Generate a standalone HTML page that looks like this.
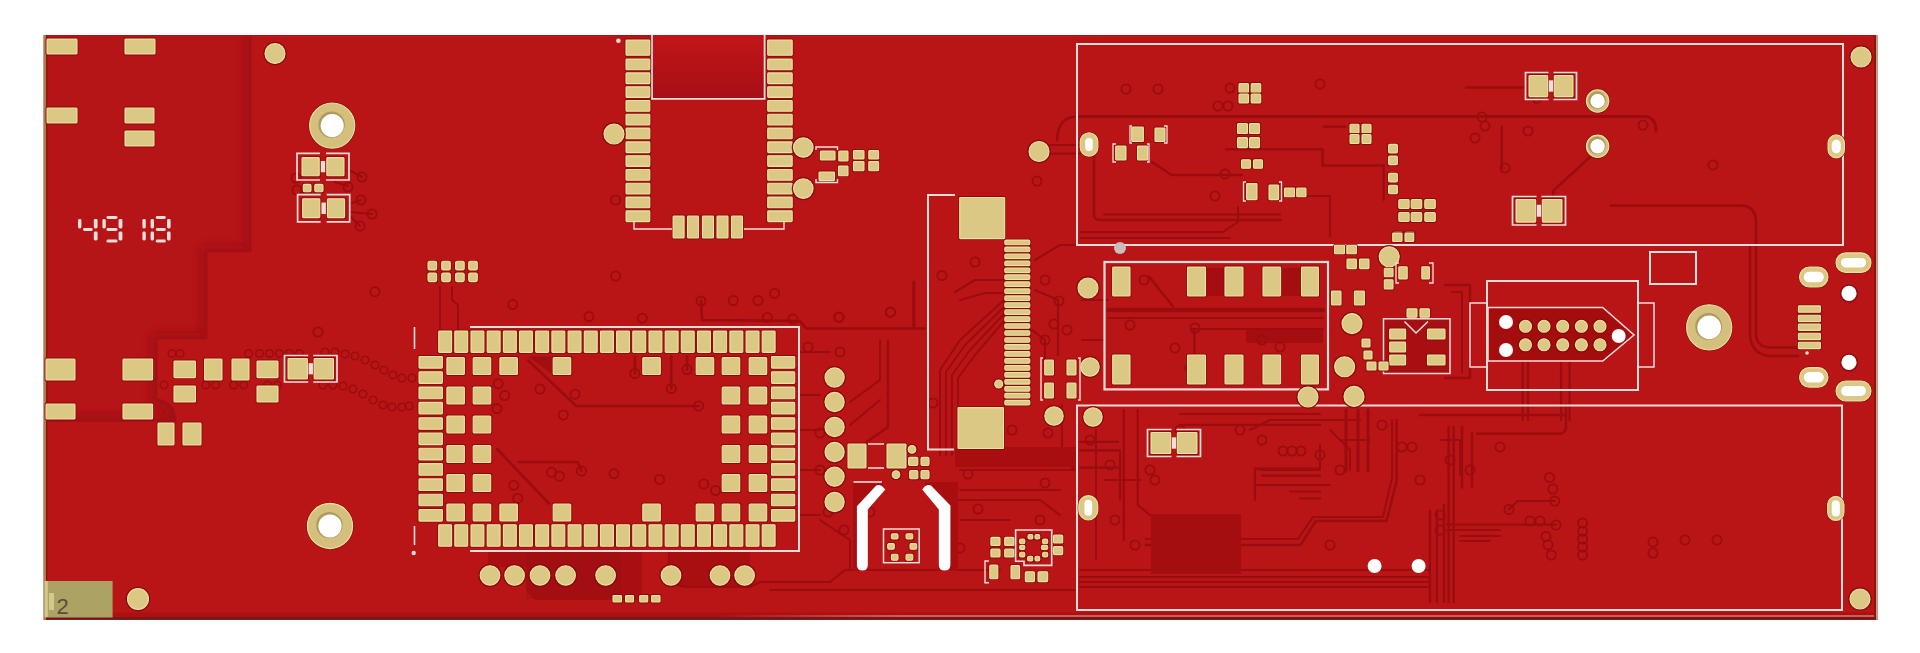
<!DOCTYPE html>
<html><head><meta charset="utf-8"><title>PCB</title><style>
html,body{margin:0;padding:0;background:#fff;width:1920px;height:653px;overflow:hidden}
svg{display:block}
.g{fill:#dcc885;stroke:#f2e2a0;stroke-width:1.1}
.sh{fill:#820b0f;opacity:0.95}
</style></head><body>
<svg width="1920" height="653" viewBox="0 0 1920 653">
<rect x="44" y="35" width="1834" height="584.8" fill="#b91516" opacity="1"/>
<defs><clipPath id="regc"><path d="M45,36 L251,36 L251,252 L207,252 L207,339 L157,339 L157,399 Q175,401 176,421 L45,421.5 Z"/></clipPath><filter id="blr" x="-10%" y="-10%" width="120%" height="120%"><feGaussianBlur stdDeviation="4"/></filter></defs>
<path d="M45,36 L251,36 L251,252 L207,252 L207,339 L157,339 L157,399 Q175,401 176,421 L45,421.5 Z" fill="#b61517"/>
<g clip-path="url(#regc)"><path d="M251,30 L251,252 L207,252 L207,339 L157,339 L157,399 Q175,401 176,421 L40,421.5" fill="none" stroke="#9c0f12" stroke-width="12" filter="url(#blr)" opacity="0.8"/></g>
<path d="M251,36 L251,252 L207,252 L207,339 L157,339 L157,399 Q175,401 176,421 L45,421.5" fill="none" stroke="#a01013" stroke-width="1.2" opacity="0.6"/>
<rect x="44" y="35" width="1834" height="1" fill="#a81418" opacity="1"/>
<defs><linearGradient id="pk" x1="720" y1="0" x2="900" y2="0" gradientUnits="userSpaceOnUse"><stop offset="0" stop-color="#dc8a78" stop-opacity="0"/><stop offset="1" stop-color="#dc8a78" stop-opacity="0.65"/></linearGradient></defs>
<rect x="44" y="612.5" width="1834" height="4.5" fill="#a00a0e" opacity="0.45"/>
<rect x="720" y="615" width="1158" height="2" fill="url(#pk)" opacity="1"/>
<rect x="44" y="617.3" width="1834" height="2.5" fill="#6a181b" opacity="1"/>
<rect x="43.3" y="35" width="2.700000000000003" height="584.8" fill="#ad7a52" opacity="1"/>
<rect x="46" y="35" width="1.3999999999999986" height="584.8" fill="#8e150e" opacity="1"/>
<rect x="1874" y="35" width="2" height="584.8" fill="#8c160c" opacity="1"/>
<rect x="1876" y="35" width="2" height="584.8" fill="#c99a80" opacity="1"/>
<path d="M1077,116.5 L1646,116.5 Q1656,118 1656,131" fill="none" stroke="#9a0c0f" stroke-width="3" stroke-linejoin="round" stroke-linecap="round"/>
<path d="M1466,87.6 L1525,87.6" fill="none" stroke="#9a0c0f" stroke-width="2.5" stroke-linejoin="round" stroke-linecap="round"/>
<path d="M1501.8,126.8 L1501.8,168.6" fill="none" stroke="#9a0c0f" stroke-width="2.4" stroke-linejoin="round" stroke-linecap="round"/>
<path d="M1595,152.5 L1553,191 L1553,197" fill="none" stroke="#9a0c0f" stroke-width="2.4" stroke-linejoin="round" stroke-linecap="round"/>
<path d="M1611,205.6 L1743,205.6 Q1756,207 1756,222 L1756,335 Q1757,347.5 1771,347.5 L1798,347.5" fill="none" stroke="#9a0c0f" stroke-width="2.6" stroke-linejoin="round" stroke-linecap="round"/>
<path d="M1750,245 L1750,336 Q1752,355 1771,356 L1798,356" fill="none" stroke="#9a0c0f" stroke-width="2.4" stroke-linejoin="round" stroke-linecap="round"/>
<path d="M1226,149.3 L1322.6,149.3 L1322.6,165.4 L1383.7,165.4" fill="none" stroke="#9a0c0f" stroke-width="2.5" stroke-linejoin="round" stroke-linecap="round"/>
<path d="M1324,126.8 L1345,126.8" fill="none" stroke="#9a0c0f" stroke-width="2.4" stroke-linejoin="round" stroke-linecap="round"/>
<path d="M1152,162 L1171.5,175 L1242,175" fill="none" stroke="#9a0c0f" stroke-width="2.4" stroke-linejoin="round" stroke-linecap="round"/>
<path d="M1094,155.7 L1094,216 Q1095,220 1100,220 L1280.8,220" fill="none" stroke="#9a0c0f" stroke-width="2.4" stroke-linejoin="round" stroke-linecap="round"/>
<path d="M1104,214.5 L1280,214.5" fill="none" stroke="#9a0c0f" stroke-width="2.2" stroke-linejoin="round" stroke-linecap="round"/>
<path d="M1081,232 L1223,232" fill="none" stroke="#9a0c0f" stroke-width="2.2" stroke-linejoin="round" stroke-linecap="round"/>
<path d="M1081,238 L1230,238" fill="none" stroke="#9a0c0f" stroke-width="2.0" stroke-linejoin="round" stroke-linecap="round"/>
<path d="M1223,232 L1238,222 L1238,207" fill="none" stroke="#9a0c0f" stroke-width="2.0" stroke-linejoin="round" stroke-linecap="round"/>
<path d="M1290,196 L1330,196 L1330,236" fill="none" stroke="#9a0c0f" stroke-width="2.2" stroke-linejoin="round" stroke-linecap="round"/>
<path d="M1383.7,165.4 L1383.7,200" fill="none" stroke="#9a0c0f" stroke-width="2.2" stroke-linejoin="round" stroke-linecap="round"/>
<path d="M1108.6,310 L1323,310" fill="none" stroke="#9a0c0f" stroke-width="4.5" stroke-linejoin="round" stroke-linecap="round"/>
<path d="M1108.6,318 L1323,318" fill="none" stroke="#9a0c0f" stroke-width="2.2" stroke-linejoin="round" stroke-linecap="round"/>
<path d="M1149,276.4 L1173,306.5" fill="none" stroke="#9a0c0f" stroke-width="2.4" stroke-linejoin="round" stroke-linecap="round"/>
<path d="M1192,329 L1323,329" fill="none" stroke="#9a0c0f" stroke-width="2.2" stroke-linejoin="round" stroke-linecap="round"/>
<path d="M1194.4,329 L1194.4,356" fill="none" stroke="#9a0c0f" stroke-width="2.2" stroke-linejoin="round" stroke-linecap="round"/>
<path d="M1082,300 L1108,300" fill="none" stroke="#9a0c0f" stroke-width="2.2" stroke-linejoin="round" stroke-linecap="round"/>
<path d="M1082,340 L1104,340" fill="none" stroke="#9a0c0f" stroke-width="2.2" stroke-linejoin="round" stroke-linecap="round"/>
<path d="M1522.7,361 L1522.7,420" fill="none" stroke="#9a0c0f" stroke-width="2.2" stroke-linejoin="round" stroke-linecap="round"/>
<path d="M1528,361 L1528,420" fill="none" stroke="#9a0c0f" stroke-width="2.2" stroke-linejoin="round" stroke-linecap="round"/>
<path d="M1561,361 L1561,420" fill="none" stroke="#9a0c0f" stroke-width="2.2" stroke-linejoin="round" stroke-linecap="round"/>
<path d="M1569.6,361 L1569.6,420" fill="none" stroke="#9a0c0f" stroke-width="2.2" stroke-linejoin="round" stroke-linecap="round"/>
<path d="M1445,285 L1470,285 L1470,378 L1445,378" fill="none" stroke="#9a0c0f" stroke-width="2.4" stroke-linejoin="round" stroke-linecap="round"/>
<path d="M1452,292 L1462,292 L1462,372" fill="none" stroke="#9a0c0f" stroke-width="2.0" stroke-linejoin="round" stroke-linecap="round"/>
<path d="M701,301 L702,320 L800,321 L806,328.5 L925,328.5" fill="none" stroke="#9a0c0f" stroke-width="2.6" stroke-linejoin="round" stroke-linecap="round"/>
<path d="M888,341 L888,427 L866.5,442" fill="none" stroke="#9a0c0f" stroke-width="2.4" stroke-linejoin="round" stroke-linecap="round"/>
<path d="M913.8,282 L913.8,328" fill="none" stroke="#9a0c0f" stroke-width="3.0" stroke-linejoin="round" stroke-linecap="round"/>
<path d="M1004,300 L960,340 L940,370 L940,455" fill="none" stroke="#9a0c0f" stroke-width="2.0" stroke-linejoin="round" stroke-linecap="round"/>
<path d="M1004,307 L965,345 L946,372 L946,455" fill="none" stroke="#9a0c0f" stroke-width="2.0" stroke-linejoin="round" stroke-linecap="round"/>
<path d="M1004,314 L970,350 L952,375 L952,455" fill="none" stroke="#9a0c0f" stroke-width="2.0" stroke-linejoin="round" stroke-linecap="round"/>
<path d="M1004,321 L975,355 L958,378 L958,405" fill="none" stroke="#9a0c0f" stroke-width="2.0" stroke-linejoin="round" stroke-linecap="round"/>
<path d="M955,292 L975,280 L1004,280" fill="none" stroke="#9a0c0f" stroke-width="2.2" stroke-linejoin="round" stroke-linecap="round"/>
<path d="M960,300 L985,293 L1004,293" fill="none" stroke="#9a0c0f" stroke-width="2.0" stroke-linejoin="round" stroke-linecap="round"/>
<path d="M1035,260 L1060,245 L1075,245" fill="none" stroke="#9a0c0f" stroke-width="2.2" stroke-linejoin="round" stroke-linecap="round"/>
<path d="M1035,290 L1058,300 L1058,355" fill="none" stroke="#9a0c0f" stroke-width="2.2" stroke-linejoin="round" stroke-linecap="round"/>
<path d="M1032,330 L1045,340 L1045,358" fill="none" stroke="#9a0c0f" stroke-width="2.0" stroke-linejoin="round" stroke-linecap="round"/>
<path d="M1062,405 L1062,460 L1076,470" fill="none" stroke="#9a0c0f" stroke-width="2.2" stroke-linejoin="round" stroke-linecap="round"/>
<path d="M1000,455 L1076,455" fill="none" stroke="#9a0c0f" stroke-width="2.0" stroke-linejoin="round" stroke-linecap="round"/>
<path d="M1000,462 L1076,462" fill="none" stroke="#9a0c0f" stroke-width="2.0" stroke-linejoin="round" stroke-linecap="round"/>
<path d="M960,470 L1076,470" fill="none" stroke="#9a0c0f" stroke-width="2.0" stroke-linejoin="round" stroke-linecap="round"/>
<path d="M960,490 L1060,490" fill="none" stroke="#9a0c0f" stroke-width="2.0" stroke-linejoin="round" stroke-linecap="round"/>
<path d="M955,500 L1040,500 L1060,515" fill="none" stroke="#9a0c0f" stroke-width="2.0" stroke-linejoin="round" stroke-linecap="round"/>
<path d="M960,520 L1010,520" fill="none" stroke="#9a0c0f" stroke-width="2.0" stroke-linejoin="round" stroke-linecap="round"/>
<path d="M960,590 L1076,590" fill="none" stroke="#9a0c0f" stroke-width="2.0" stroke-linejoin="round" stroke-linecap="round"/>
<path d="M770,590 L1076,590" fill="none" stroke="#9a0c0f" stroke-width="2.0" stroke-linejoin="round" stroke-linecap="round"/>
<path d="M760,582 L830,582 L845,570 L1000,570" fill="none" stroke="#9a0c0f" stroke-width="2.0" stroke-linejoin="round" stroke-linecap="round"/>
<path d="M1080,570 L1430,570" fill="none" stroke="#9a0c0f" stroke-width="2.2" stroke-linejoin="round" stroke-linecap="round"/>
<path d="M1080,577 L1430,577" fill="none" stroke="#9a0c0f" stroke-width="2.2" stroke-linejoin="round" stroke-linecap="round"/>
<path d="M1080,582 L1430,582" fill="none" stroke="#9a0c0f" stroke-width="2.0" stroke-linejoin="round" stroke-linecap="round"/>
<path d="M1080,587 L1430,587" fill="none" stroke="#9a0c0f" stroke-width="2.0" stroke-linejoin="round" stroke-linecap="round"/>
<path d="M1145.7,545 L1300.6,545 L1315.8,521 L1386.5,521 L1396.6,481 L1396.6,420" fill="none" stroke="#9a0c0f" stroke-width="2.4" stroke-linejoin="round" stroke-linecap="round"/>
<path d="M1145.7,539 L1298,539 L1313,517 L1383,517 L1392,478 L1392,420" fill="none" stroke="#9a0c0f" stroke-width="2.0" stroke-linejoin="round" stroke-linecap="round"/>
<path d="M1430,511 L1430,602" fill="none" stroke="#9a0c0f" stroke-width="2.4" stroke-linejoin="round" stroke-linecap="round"/>
<path d="M1437,511 L1437,602" fill="none" stroke="#9a0c0f" stroke-width="2.4" stroke-linejoin="round" stroke-linecap="round"/>
<path d="M1444,505 L1444,602" fill="none" stroke="#9a0c0f" stroke-width="2.4" stroke-linejoin="round" stroke-linecap="round"/>
<path d="M1440,440 L1460,440 L1460,475" fill="none" stroke="#9a0c0f" stroke-width="2.0" stroke-linejoin="round" stroke-linecap="round"/>
<path d="M1260,470 L1320,470 L1320,445" fill="none" stroke="#9a0c0f" stroke-width="2.0" stroke-linejoin="round" stroke-linecap="round"/>
<path d="M1255,485 L1330,485" fill="none" stroke="#9a0c0f" stroke-width="2.0" stroke-linejoin="round" stroke-linecap="round"/>
<path d="M1082,450 L1120,450 L1120,500" fill="none" stroke="#9a0c0f" stroke-width="2.2" stroke-linejoin="round" stroke-linecap="round"/>
<path d="M1096,430 L1096,560" fill="none" stroke="#9a0c0f" stroke-width="2.0" stroke-linejoin="round" stroke-linecap="round"/>
<path d="M1104,480 L1140,480" fill="none" stroke="#9a0c0f" stroke-width="2.0" stroke-linejoin="round" stroke-linecap="round"/>
<path d="M1250,430 L1270,420 L1360,420" fill="none" stroke="#9a0c0f" stroke-width="2.0" stroke-linejoin="round" stroke-linecap="round"/>
<path d="M1330,430 L1350,450 L1350,470" fill="none" stroke="#9a0c0f" stroke-width="2.0" stroke-linejoin="round" stroke-linecap="round"/>
<path d="M1340,440 L1370,440" fill="none" stroke="#9a0c0f" stroke-width="2.0" stroke-linejoin="round" stroke-linecap="round"/>
<path d="M1080,441.8 L1118,441.8" fill="none" stroke="#9a0c0f" stroke-width="2.2" stroke-linejoin="round" stroke-linecap="round"/>
<path d="M1080,450.7 L1118,450.7" fill="none" stroke="#9a0c0f" stroke-width="2.2" stroke-linejoin="round" stroke-linecap="round"/>
<path d="M1080,467.7 L1118,467.7" fill="none" stroke="#9a0c0f" stroke-width="2.2" stroke-linejoin="round" stroke-linecap="round"/>
<path d="M1123.8,410 L1123.8,540" fill="none" stroke="#9a0c0f" stroke-width="2.2" stroke-linejoin="round" stroke-linecap="round"/>
<path d="M1137.7,410 L1137.7,505 L1150,515" fill="none" stroke="#9a0c0f" stroke-width="2.2" stroke-linejoin="round" stroke-linecap="round"/>
<path d="M1180,414 L1320,414" fill="none" stroke="#9a0c0f" stroke-width="2.2" stroke-linejoin="round" stroke-linecap="round"/>
<path d="M1180,424.9 L1320,424.9" fill="none" stroke="#9a0c0f" stroke-width="2.2" stroke-linejoin="round" stroke-linecap="round"/>
<path d="M1255,468.7 L1320,468.7" fill="none" stroke="#9a0c0f" stroke-width="2.2" stroke-linejoin="round" stroke-linecap="round"/>
<path d="M1262,475.6 L1320,475.6" fill="none" stroke="#9a0c0f" stroke-width="2.2" stroke-linejoin="round" stroke-linecap="round"/>
<path d="M1290,491.5 L1320,491.5" fill="none" stroke="#9a0c0f" stroke-width="2.2" stroke-linejoin="round" stroke-linecap="round"/>
<path d="M1300,498.5 L1320,498.5" fill="none" stroke="#9a0c0f" stroke-width="2.2" stroke-linejoin="round" stroke-linecap="round"/>
<path d="M1255,468.7 L1255,500" fill="none" stroke="#9a0c0f" stroke-width="2.2" stroke-linejoin="round" stroke-linecap="round"/>
<path d="M1346,410 L1346,471" fill="none" stroke="#9a0c0f" stroke-width="3.0" stroke-linejoin="round" stroke-linecap="round"/>
<path d="M1358,410 L1358,471" fill="none" stroke="#9a0c0f" stroke-width="3.0" stroke-linejoin="round" stroke-linecap="round"/>
<path d="M1368,410 L1368,471" fill="none" stroke="#9a0c0f" stroke-width="3.0" stroke-linejoin="round" stroke-linecap="round"/>
<path d="M1477,433.7 L1560,433.7 Q1566,433 1566,426 L1566,405" fill="none" stroke="#9a0c0f" stroke-width="2.4" stroke-linejoin="round" stroke-linecap="round"/>
<path d="M1420,415 L1566,415" fill="none" stroke="#9a0c0f" stroke-width="2.4" stroke-linejoin="round" stroke-linecap="round"/>
<path d="M1448.6,427 L1448.6,602" fill="none" stroke="#9a0c0f" stroke-width="2.4" stroke-linejoin="round" stroke-linecap="round"/>
<path d="M1453.7,427 L1453.7,602" fill="none" stroke="#9a0c0f" stroke-width="2.4" stroke-linejoin="round" stroke-linecap="round"/>
<path d="M1462,427 L1462,487.5" fill="none" stroke="#9a0c0f" stroke-width="2.4" stroke-linejoin="round" stroke-linecap="round"/>
<path d="M1472,433 L1472,487.5" fill="none" stroke="#9a0c0f" stroke-width="2.4" stroke-linejoin="round" stroke-linecap="round"/>
<path d="M1447,524.6 L1556,524.6" fill="none" stroke="#9a0c0f" stroke-width="2.4" stroke-linejoin="round" stroke-linecap="round"/>
<path d="M1447,530 L1500,530" fill="none" stroke="#9a0c0f" stroke-width="2.2" stroke-linejoin="round" stroke-linecap="round"/>
<path d="M1460,536 L1500,536" fill="none" stroke="#9a0c0f" stroke-width="2.2" stroke-linejoin="round" stroke-linecap="round"/>
<path d="M1460,541 L1490,541" fill="none" stroke="#9a0c0f" stroke-width="2.2" stroke-linejoin="round" stroke-linecap="round"/>
<path d="M1554.7,501 L1517.6,501 L1509,509.4" fill="none" stroke="#9a0c0f" stroke-width="2.2" stroke-linejoin="round" stroke-linecap="round"/>
<path d="M349,170 L362,177" fill="none" stroke="#9a0c0f" stroke-width="2.0" stroke-linejoin="round" stroke-linecap="round"/>
<path d="M349,204 L361,200" fill="none" stroke="#9a0c0f" stroke-width="2.0" stroke-linejoin="round" stroke-linecap="round"/>
<path d="M350,212 L372,214" fill="none" stroke="#9a0c0f" stroke-width="2.0" stroke-linejoin="round" stroke-linecap="round"/>
<path d="M350,216 L360,226" fill="none" stroke="#9a0c0f" stroke-width="2.0" stroke-linejoin="round" stroke-linecap="round"/>
<path d="M335,182 L348,186" fill="none" stroke="#9a0c0f" stroke-width="2.0" stroke-linejoin="round" stroke-linecap="round"/>
<path d="M1057,140 Q1058,116.5 1077,116.5" fill="none" stroke="#9a0c0f" stroke-width="2.6" stroke-linejoin="round" stroke-linecap="round"/>
<path d="M1050,145 L1080,145" fill="none" stroke="#9a0c0f" stroke-width="2.2" stroke-linejoin="round" stroke-linecap="round"/>
<path d="M1050,153.7 L1080,153.7" fill="none" stroke="#9a0c0f" stroke-width="2.2" stroke-linejoin="round" stroke-linecap="round"/>
<path d="M528,360.4 L576.3,406 L698.6,406" fill="none" stroke="#9a0c0f" stroke-width="2.6" stroke-linejoin="round" stroke-linecap="round"/>
<path d="M634.9,356.5 L634.9,373.4" fill="none" stroke="#9a0c0f" stroke-width="2.6" stroke-linejoin="round" stroke-linecap="round"/>
<path d="M671.3,356.5 L671.3,388.5" fill="none" stroke="#9a0c0f" stroke-width="2.6" stroke-linejoin="round" stroke-linecap="round"/>
<path d="M687,356.5 L687,369.5" fill="none" stroke="#9a0c0f" stroke-width="2.6" stroke-linejoin="round" stroke-linecap="round"/>
<path d="M497,449 L549,503.6" fill="none" stroke="#9a0c0f" stroke-width="2.6" stroke-linejoin="round" stroke-linecap="round"/>
<path d="M519,462 L577.6,462 L581.5,471" fill="none" stroke="#9a0c0f" stroke-width="2.4" stroke-linejoin="round" stroke-linecap="round"/>
<path d="M440,287 L440,330" fill="none" stroke="#9a0c0f" stroke-width="2.0" stroke-linejoin="round" stroke-linecap="round"/>
<path d="M452,287 L452,300 L458,305 L458,330" fill="none" stroke="#9a0c0f" stroke-width="2.0" stroke-linejoin="round" stroke-linecap="round"/>
<path d="M669,552 L669,570 Q670,587 690,587 L750,587" fill="none" stroke="#9a0c0f" stroke-width="2.2" stroke-linejoin="round" stroke-linecap="round"/>
<path d="M750,587 L760,582 L790,582" fill="none" stroke="#9a0c0f" stroke-width="2.0" stroke-linejoin="round" stroke-linecap="round"/>
<path d="M800,352 L830,352" fill="none" stroke="#9a0c0f" stroke-width="2.0" stroke-linejoin="round" stroke-linecap="round"/>
<path d="M800,395 L820,395" fill="none" stroke="#9a0c0f" stroke-width="2.0" stroke-linejoin="round" stroke-linecap="round"/>
<path d="M800,430 L820,430" fill="none" stroke="#9a0c0f" stroke-width="2.0" stroke-linejoin="round" stroke-linecap="round"/>
<path d="M800,470 L820,470" fill="none" stroke="#9a0c0f" stroke-width="2.0" stroke-linejoin="round" stroke-linecap="round"/>
<path d="M800,515 L820,515" fill="none" stroke="#9a0c0f" stroke-width="2.0" stroke-linejoin="round" stroke-linecap="round"/>
<path d="M850,402 L880,380 L880,340" fill="none" stroke="#9a0c0f" stroke-width="2.0" stroke-linejoin="round" stroke-linecap="round"/>
<path d="M850,425 L880,400" fill="none" stroke="#9a0c0f" stroke-width="2.0" stroke-linejoin="round" stroke-linecap="round"/>
<path d="M820,520 L850,540 L850,570" fill="none" stroke="#9a0c0f" stroke-width="2.0" stroke-linejoin="round" stroke-linecap="round"/>
<path d="M488,552 L642,552 L642,600 L535,600 L526,590 L526,567 L488,567 Z" fill="#a20e11" opacity="0.8"/>
<rect x="526" y="553" width="95" height="46" fill="#9a0d10" opacity="0.35"/>
<path d="M669,552 L750,552 L750,587 L690,587 Q671,585 669,570 Z" fill="#a60e11" opacity="0.85"/>
<polygon points="528,356.5 551.6,356.5 551.6,373.4" fill="#9c0d10" opacity="0.8"/>
<rect x="1206" y="268" width="18.4" height="28" fill="#a50e10"/>
<rect x="1281" y="268" width="19.5" height="28" fill="#a50e10"/>
<rect x="1246" y="330" width="77" height="13" fill="#a50e10"/>
<rect x="955" y="447" width="122" height="20" fill="#a80e10"/>
<circle cx="325" cy="352" r="3.8" fill="none" stroke="#9a0c0f" stroke-width="1.5"/>
<circle cx="335" cy="352" r="3.8" fill="none" stroke="#9a0c0f" stroke-width="1.5"/>
<circle cx="345" cy="354" r="3.8" fill="none" stroke="#9a0c0f" stroke-width="1.5"/>
<circle cx="355" cy="356" r="3.8" fill="none" stroke="#9a0c0f" stroke-width="1.5"/>
<circle cx="365" cy="360" r="3.8" fill="none" stroke="#9a0c0f" stroke-width="1.5"/>
<circle cx="375" cy="365" r="3.8" fill="none" stroke="#9a0c0f" stroke-width="1.5"/>
<circle cx="384" cy="370" r="3.8" fill="none" stroke="#9a0c0f" stroke-width="1.5"/>
<circle cx="393" cy="375" r="3.8" fill="none" stroke="#9a0c0f" stroke-width="1.5"/>
<circle cx="402" cy="378" r="3.8" fill="none" stroke="#9a0c0f" stroke-width="1.5"/>
<circle cx="412" cy="378" r="3.8" fill="none" stroke="#9a0c0f" stroke-width="1.5"/>
<circle cx="323" cy="385" r="3.8" fill="none" stroke="#9a0c0f" stroke-width="1.5"/>
<circle cx="333" cy="385" r="3.8" fill="none" stroke="#9a0c0f" stroke-width="1.5"/>
<circle cx="343" cy="386" r="3.8" fill="none" stroke="#9a0c0f" stroke-width="1.5"/>
<circle cx="353" cy="389" r="3.8" fill="none" stroke="#9a0c0f" stroke-width="1.5"/>
<circle cx="363" cy="394" r="3.8" fill="none" stroke="#9a0c0f" stroke-width="1.5"/>
<circle cx="373" cy="400" r="3.8" fill="none" stroke="#9a0c0f" stroke-width="1.5"/>
<circle cx="383" cy="405" r="3.8" fill="none" stroke="#9a0c0f" stroke-width="1.5"/>
<circle cx="392" cy="407" r="3.8" fill="none" stroke="#9a0c0f" stroke-width="1.5"/>
<circle cx="402" cy="407" r="3.8" fill="none" stroke="#9a0c0f" stroke-width="1.5"/>
<circle cx="409" cy="406" r="3.8" fill="none" stroke="#9a0c0f" stroke-width="1.5"/>
<circle cx="172" cy="353.5" r="3.8" fill="none" stroke="#9a0c0f" stroke-width="1.5"/>
<circle cx="180" cy="353.5" r="3.8" fill="none" stroke="#9a0c0f" stroke-width="1.5"/>
<circle cx="248.6" cy="353.5" r="3.8" fill="none" stroke="#9a0c0f" stroke-width="1.5"/>
<circle cx="259.5" cy="353.5" r="3.8" fill="none" stroke="#9a0c0f" stroke-width="1.5"/>
<circle cx="269.5" cy="353.5" r="3.8" fill="none" stroke="#9a0c0f" stroke-width="1.5"/>
<circle cx="279.4" cy="353.5" r="3.8" fill="none" stroke="#9a0c0f" stroke-width="1.5"/>
<circle cx="289.4" cy="353.5" r="3.8" fill="none" stroke="#9a0c0f" stroke-width="1.5"/>
<circle cx="299.4" cy="353.5" r="3.8" fill="none" stroke="#9a0c0f" stroke-width="1.5"/>
<circle cx="164" cy="385" r="3.8" fill="none" stroke="#9a0c0f" stroke-width="1.5"/>
<circle cx="205.7" cy="385" r="3.8" fill="none" stroke="#9a0c0f" stroke-width="1.5"/>
<circle cx="215.7" cy="385" r="3.8" fill="none" stroke="#9a0c0f" stroke-width="1.5"/>
<circle cx="233.6" cy="385" r="3.8" fill="none" stroke="#9a0c0f" stroke-width="1.5"/>
<circle cx="243.6" cy="385" r="3.8" fill="none" stroke="#9a0c0f" stroke-width="1.5"/>
<circle cx="267.5" cy="385" r="3.8" fill="none" stroke="#9a0c0f" stroke-width="1.5"/>
<circle cx="277.5" cy="385" r="3.8" fill="none" stroke="#9a0c0f" stroke-width="1.5"/>
<circle cx="374.9" cy="291.7" r="4.6" fill="none" stroke="#9a0c0f" stroke-width="1.8"/>
<circle cx="512.8" cy="304.6" r="4.6" fill="none" stroke="#9a0c0f" stroke-width="1.8"/>
<circle cx="589" cy="316.5" r="4.6" fill="none" stroke="#9a0c0f" stroke-width="1.8"/>
<circle cx="318" cy="332" r="4.6" fill="none" stroke="#9a0c0f" stroke-width="1.8"/>
<circle cx="615.6" cy="276" r="4.6" fill="none" stroke="#9a0c0f" stroke-width="1.8"/>
<circle cx="642.3" cy="318.3" r="4.6" fill="none" stroke="#9a0c0f" stroke-width="1.8"/>
<circle cx="701" cy="301" r="4.6" fill="none" stroke="#9a0c0f" stroke-width="1.8"/>
<circle cx="733.3" cy="300.5" r="4.6" fill="none" stroke="#9a0c0f" stroke-width="1.8"/>
<circle cx="758" cy="300.5" r="4.6" fill="none" stroke="#9a0c0f" stroke-width="1.8"/>
<circle cx="774.6" cy="293.5" r="4.6" fill="none" stroke="#9a0c0f" stroke-width="1.8"/>
<circle cx="767.3" cy="317.4" r="4.6" fill="none" stroke="#9a0c0f" stroke-width="1.8"/>
<circle cx="793" cy="319" r="4.6" fill="none" stroke="#9a0c0f" stroke-width="1.8"/>
<circle cx="839" cy="317.4" r="4.6" fill="none" stroke="#9a0c0f" stroke-width="1.8"/>
<circle cx="890.4" cy="312" r="4.6" fill="none" stroke="#9a0c0f" stroke-width="1.8"/>
<circle cx="698.6" cy="406" r="4.6" fill="none" stroke="#9a0c0f" stroke-width="1.8"/>
<circle cx="634.9" cy="373.4" r="4.6" fill="none" stroke="#9a0c0f" stroke-width="1.8"/>
<circle cx="671.3" cy="388.5" r="4.6" fill="none" stroke="#9a0c0f" stroke-width="1.8"/>
<circle cx="687" cy="369.5" r="4.6" fill="none" stroke="#9a0c0f" stroke-width="1.8"/>
<circle cx="539.9" cy="389" r="4.6" fill="none" stroke="#9a0c0f" stroke-width="1.8"/>
<circle cx="563.3" cy="415" r="4.6" fill="none" stroke="#9a0c0f" stroke-width="1.8"/>
<circle cx="575" cy="394.2" r="4.6" fill="none" stroke="#9a0c0f" stroke-width="1.8"/>
<circle cx="498.2" cy="383.8" r="4.6" fill="none" stroke="#9a0c0f" stroke-width="1.8"/>
<circle cx="504.7" cy="395.5" r="4.6" fill="none" stroke="#9a0c0f" stroke-width="1.8"/>
<circle cx="497" cy="408.6" r="4.6" fill="none" stroke="#9a0c0f" stroke-width="1.8"/>
<circle cx="581.5" cy="471" r="4.6" fill="none" stroke="#9a0c0f" stroke-width="1.8"/>
<circle cx="551.6" cy="472.3" r="4.6" fill="none" stroke="#9a0c0f" stroke-width="1.8"/>
<circle cx="559.4" cy="476.2" r="4.6" fill="none" stroke="#9a0c0f" stroke-width="1.8"/>
<circle cx="513.8" cy="485.3" r="4.6" fill="none" stroke="#9a0c0f" stroke-width="1.8"/>
<circle cx="517.7" cy="498.4" r="4.6" fill="none" stroke="#9a0c0f" stroke-width="1.8"/>
<circle cx="614" cy="473.6" r="4.6" fill="none" stroke="#9a0c0f" stroke-width="1.8"/>
<circle cx="659.6" cy="479.4" r="4.6" fill="none" stroke="#9a0c0f" stroke-width="1.8"/>
<circle cx="703.8" cy="484" r="4.6" fill="none" stroke="#9a0c0f" stroke-width="1.8"/>
<circle cx="715.6" cy="490.5" r="4.6" fill="none" stroke="#9a0c0f" stroke-width="1.8"/>
<circle cx="1126" cy="89" r="4.6" fill="none" stroke="#9a0c0f" stroke-width="1.8"/>
<circle cx="1158" cy="89" r="4.6" fill="none" stroke="#9a0c0f" stroke-width="1.8"/>
<circle cx="1230" cy="88" r="4.6" fill="none" stroke="#9a0c0f" stroke-width="1.8"/>
<circle cx="1218" cy="106" r="4.6" fill="none" stroke="#9a0c0f" stroke-width="1.8"/>
<circle cx="1228" cy="106" r="4.6" fill="none" stroke="#9a0c0f" stroke-width="1.8"/>
<circle cx="1215" cy="196" r="4.6" fill="none" stroke="#9a0c0f" stroke-width="1.8"/>
<circle cx="1300" cy="193" r="4.6" fill="none" stroke="#9a0c0f" stroke-width="1.8"/>
<circle cx="1225" cy="174" r="4.6" fill="none" stroke="#9a0c0f" stroke-width="1.8"/>
<circle cx="1320" cy="84" r="4.6" fill="none" stroke="#9a0c0f" stroke-width="1.8"/>
<circle cx="1482" cy="117" r="4.6" fill="none" stroke="#9a0c0f" stroke-width="1.8"/>
<circle cx="1485" cy="126" r="4.6" fill="none" stroke="#9a0c0f" stroke-width="1.8"/>
<circle cx="1475" cy="138" r="4.6" fill="none" stroke="#9a0c0f" stroke-width="1.8"/>
<circle cx="1537" cy="98" r="4.6" fill="none" stroke="#9a0c0f" stroke-width="1.8"/>
<circle cx="1528" cy="131" r="4.6" fill="none" stroke="#9a0c0f" stroke-width="1.8"/>
<circle cx="1643" cy="125" r="4.6" fill="none" stroke="#9a0c0f" stroke-width="1.8"/>
<circle cx="1713" cy="165" r="4.6" fill="none" stroke="#9a0c0f" stroke-width="1.8"/>
<circle cx="1505" cy="168" r="4.6" fill="none" stroke="#9a0c0f" stroke-width="1.8"/>
<circle cx="1144" cy="280" r="4.6" fill="none" stroke="#9a0c0f" stroke-width="1.8"/>
<circle cx="1195" cy="328" r="4.6" fill="none" stroke="#9a0c0f" stroke-width="1.8"/>
<circle cx="1130" cy="325" r="4.6" fill="none" stroke="#9a0c0f" stroke-width="1.8"/>
<circle cx="1175" cy="348" r="4.6" fill="none" stroke="#9a0c0f" stroke-width="1.8"/>
<circle cx="1280" cy="347" r="4.6" fill="none" stroke="#9a0c0f" stroke-width="1.8"/>
<circle cx="1262" cy="340" r="4.6" fill="none" stroke="#9a0c0f" stroke-width="1.8"/>
<circle cx="1190" cy="368" r="4.6" fill="none" stroke="#9a0c0f" stroke-width="1.8"/>
<circle cx="1192" cy="378" r="4.6" fill="none" stroke="#9a0c0f" stroke-width="1.8"/>
<circle cx="1180" cy="430" r="4.6" fill="none" stroke="#9a0c0f" stroke-width="1.8"/>
<circle cx="1240" cy="430" r="4.6" fill="none" stroke="#9a0c0f" stroke-width="1.8"/>
<circle cx="1150" cy="470" r="4.6" fill="none" stroke="#9a0c0f" stroke-width="1.8"/>
<circle cx="1155" cy="480" r="4.6" fill="none" stroke="#9a0c0f" stroke-width="1.8"/>
<circle cx="1262" cy="440" r="4.6" fill="none" stroke="#9a0c0f" stroke-width="1.8"/>
<circle cx="1283" cy="451" r="4.6" fill="none" stroke="#9a0c0f" stroke-width="1.8"/>
<circle cx="1292" cy="451" r="4.6" fill="none" stroke="#9a0c0f" stroke-width="1.8"/>
<circle cx="1301" cy="451" r="4.6" fill="none" stroke="#9a0c0f" stroke-width="1.8"/>
<circle cx="1320" cy="455" r="4.6" fill="none" stroke="#9a0c0f" stroke-width="1.8"/>
<circle cx="1340" cy="470" r="4.6" fill="none" stroke="#9a0c0f" stroke-width="1.8"/>
<circle cx="1382" cy="425" r="4.6" fill="none" stroke="#9a0c0f" stroke-width="1.8"/>
<circle cx="1420" cy="480" r="4.6" fill="none" stroke="#9a0c0f" stroke-width="1.8"/>
<circle cx="1402" cy="447" r="4.6" fill="none" stroke="#9a0c0f" stroke-width="1.8"/>
<circle cx="1412" cy="447" r="4.6" fill="none" stroke="#9a0c0f" stroke-width="1.8"/>
<circle cx="1549.6" cy="477.4" r="4.6" fill="none" stroke="#9a0c0f" stroke-width="1.8"/>
<circle cx="1553" cy="489" r="4.6" fill="none" stroke="#9a0c0f" stroke-width="1.8"/>
<circle cx="1554.7" cy="501" r="4.6" fill="none" stroke="#9a0c0f" stroke-width="1.8"/>
<circle cx="1556" cy="525" r="4.6" fill="none" stroke="#9a0c0f" stroke-width="1.8"/>
<circle cx="1546" cy="536.4" r="4.6" fill="none" stroke="#9a0c0f" stroke-width="1.8"/>
<circle cx="1548" cy="544.8" r="4.6" fill="none" stroke="#9a0c0f" stroke-width="1.8"/>
<circle cx="1551.3" cy="555" r="4.6" fill="none" stroke="#9a0c0f" stroke-width="1.8"/>
<circle cx="1582.6" cy="523" r="4.6" fill="none" stroke="#9a0c0f" stroke-width="1.8"/>
<circle cx="1582.6" cy="531.3" r="4.6" fill="none" stroke="#9a0c0f" stroke-width="1.8"/>
<circle cx="1582.6" cy="539" r="4.6" fill="none" stroke="#9a0c0f" stroke-width="1.8"/>
<circle cx="1582.6" cy="547" r="4.6" fill="none" stroke="#9a0c0f" stroke-width="1.8"/>
<circle cx="1582.6" cy="555" r="4.6" fill="none" stroke="#9a0c0f" stroke-width="1.8"/>
<circle cx="1509" cy="509.4" r="4.6" fill="none" stroke="#9a0c0f" stroke-width="1.8"/>
<circle cx="1653" cy="542" r="4.6" fill="none" stroke="#9a0c0f" stroke-width="1.8"/>
<circle cx="1653" cy="553" r="4.6" fill="none" stroke="#9a0c0f" stroke-width="1.8"/>
<circle cx="1685" cy="540" r="4.6" fill="none" stroke="#9a0c0f" stroke-width="1.8"/>
<circle cx="1717" cy="540" r="4.6" fill="none" stroke="#9a0c0f" stroke-width="1.8"/>
<circle cx="1440" cy="515" r="4.6" fill="none" stroke="#9a0c0f" stroke-width="1.8"/>
<circle cx="1440" cy="530" r="4.6" fill="none" stroke="#9a0c0f" stroke-width="1.8"/>
<circle cx="1530" cy="521" r="4.6" fill="none" stroke="#9a0c0f" stroke-width="1.8"/>
<circle cx="1540" cy="521" r="4.6" fill="none" stroke="#9a0c0f" stroke-width="1.8"/>
<circle cx="1115" cy="520" r="4.6" fill="none" stroke="#9a0c0f" stroke-width="1.8"/>
<circle cx="1135" cy="545" r="4.6" fill="none" stroke="#9a0c0f" stroke-width="1.8"/>
<circle cx="1330" cy="545" r="4.6" fill="none" stroke="#9a0c0f" stroke-width="1.8"/>
<circle cx="1450" cy="460" r="4.6" fill="none" stroke="#9a0c0f" stroke-width="1.8"/>
<circle cx="1470" cy="470" r="4.6" fill="none" stroke="#9a0c0f" stroke-width="1.8"/>
<circle cx="1500" cy="447" r="4.6" fill="none" stroke="#9a0c0f" stroke-width="1.8"/>
<circle cx="1000" cy="230" r="4.6" fill="none" stroke="#9a0c0f" stroke-width="1.8"/>
<circle cx="975" cy="262" r="4.6" fill="none" stroke="#9a0c0f" stroke-width="1.8"/>
<circle cx="1045" cy="280" r="4.6" fill="none" stroke="#9a0c0f" stroke-width="1.8"/>
<circle cx="1059" cy="301" r="4.6" fill="none" stroke="#9a0c0f" stroke-width="1.8"/>
<circle cx="1054" cy="324" r="4.6" fill="none" stroke="#9a0c0f" stroke-width="1.8"/>
<circle cx="1045" cy="340" r="4.6" fill="none" stroke="#9a0c0f" stroke-width="1.8"/>
<circle cx="1067" cy="330" r="4.6" fill="none" stroke="#9a0c0f" stroke-width="1.8"/>
<circle cx="1012" cy="430" r="4.6" fill="none" stroke="#9a0c0f" stroke-width="1.8"/>
<circle cx="1048" cy="433" r="4.6" fill="none" stroke="#9a0c0f" stroke-width="1.8"/>
<circle cx="1090" cy="440" r="4.6" fill="none" stroke="#9a0c0f" stroke-width="1.8"/>
<circle cx="1110" cy="465" r="4.6" fill="none" stroke="#9a0c0f" stroke-width="1.8"/>
<circle cx="1045" cy="483" r="4.6" fill="none" stroke="#9a0c0f" stroke-width="1.8"/>
<circle cx="1040" cy="520" r="4.6" fill="none" stroke="#9a0c0f" stroke-width="1.8"/>
<circle cx="968" cy="474" r="4.6" fill="none" stroke="#9a0c0f" stroke-width="1.8"/>
<circle cx="978" cy="509" r="4.6" fill="none" stroke="#9a0c0f" stroke-width="1.8"/>
<circle cx="933" cy="403" r="4.6" fill="none" stroke="#9a0c0f" stroke-width="1.8"/>
<circle cx="905" cy="463" r="4.6" fill="none" stroke="#9a0c0f" stroke-width="1.8"/>
<circle cx="870" cy="512" r="4.6" fill="none" stroke="#9a0c0f" stroke-width="1.8"/>
<circle cx="840" cy="352" r="4.6" fill="none" stroke="#9a0c0f" stroke-width="1.8"/>
<circle cx="808" cy="347" r="4.6" fill="none" stroke="#9a0c0f" stroke-width="1.8"/>
<circle cx="820" cy="433" r="4.6" fill="none" stroke="#9a0c0f" stroke-width="1.8"/>
<circle cx="820" cy="470" r="4.6" fill="none" stroke="#9a0c0f" stroke-width="1.8"/>
<circle cx="828" cy="512" r="4.6" fill="none" stroke="#9a0c0f" stroke-width="1.8"/>
<circle cx="844" cy="530" r="4.6" fill="none" stroke="#9a0c0f" stroke-width="1.8"/>
<circle cx="960" cy="548" r="4.6" fill="none" stroke="#9a0c0f" stroke-width="1.8"/>
<circle cx="942" cy="275.6" r="4.6" fill="none" stroke="#9a0c0f" stroke-width="1.8"/>
<circle cx="890.5" cy="312.4" r="4.6" fill="none" stroke="#9a0c0f" stroke-width="1.8"/>
<circle cx="839" cy="317" r="4.6" fill="none" stroke="#9a0c0f" stroke-width="1.8"/>
<circle cx="1037" cy="181" r="4.6" fill="none" stroke="#9a0c0f" stroke-width="1.8"/>
<circle cx="362" cy="177" r="4.6" fill="none" stroke="#9a0c0f" stroke-width="1.8"/>
<circle cx="361" cy="200" r="4.6" fill="none" stroke="#9a0c0f" stroke-width="1.8"/>
<circle cx="372" cy="214" r="4.6" fill="none" stroke="#9a0c0f" stroke-width="1.8"/>
<circle cx="360" cy="226" r="4.6" fill="none" stroke="#9a0c0f" stroke-width="1.8"/>
<circle cx="348" cy="187" r="4.6" fill="none" stroke="#9a0c0f" stroke-width="1.8"/>
<circle cx="615.6" cy="200" r="4.6" fill="none" stroke="#9a0c0f" stroke-width="1.8"/>
<circle cx="296" cy="178" r="4.6" fill="none" stroke="#9a0c0f" stroke-width="1.8"/>
<circle cx="297" cy="190" r="4.6" fill="none" stroke="#9a0c0f" stroke-width="1.8"/>
<rect x="45.6" y="37.6" width="32.8" height="17.8" rx="1.8" class="sh"/>
<rect x="47.0" y="39.0" width="30.0" height="15.0" rx="0.8" class="g"/>
<rect x="123.6" y="37.6" width="32.8" height="17.8" rx="1.8" class="sh"/>
<rect x="125.0" y="39.0" width="30.0" height="15.0" rx="0.8" class="g"/>
<rect x="45.6" y="106.6" width="32.8" height="17.8" rx="1.8" class="sh"/>
<rect x="47.0" y="108.0" width="30.0" height="15.0" rx="0.8" class="g"/>
<rect x="123.6" y="106.6" width="31.8" height="17.8" rx="1.8" class="sh"/>
<rect x="125.0" y="108.0" width="29.0" height="15.0" rx="0.8" class="g"/>
<rect x="123.6" y="129.6" width="31.8" height="17.8" rx="1.8" class="sh"/>
<rect x="125.0" y="131.0" width="29.0" height="15.0" rx="0.8" class="g"/>
<circle cx="275.0" cy="53.5" r="11.8" class="sh"/>
<circle cx="275.0" cy="53.5" r="10" class="g"/>
<circle cx="332.2" cy="125.6" r="23.8" class="sh"/>
<circle cx="332.2" cy="125.6" r="22.6" class="g" style="fill:#d4c07c"/>
<circle cx="331.6" cy="124.7" r="13.2" fill="#9a8450" opacity="0.65"/>
<circle cx="332.2" cy="125.6" r="11.6" fill="#fff"/>
<path d="M320.0,153.3 L297,153.3 L297,180 L320.0,180" fill="none" stroke="#f1dedb" stroke-width="1.7"/>
<path d="M326.0,153.3 L349,153.3 L349,180 L326.0,180" fill="none" stroke="#f1dedb" stroke-width="1.7"/>
<rect x="300.6" y="156.2" width="20.0" height="21.0" rx="1.8" class="sh"/>
<rect x="302.0" y="157.6" width="17.2" height="18.2" rx="0.8" class="g"/>
<rect x="325.4" y="156.2" width="20.0" height="21.0" rx="1.8" class="sh"/>
<rect x="326.8" y="157.6" width="17.2" height="18.2" rx="0.8" class="g"/>
<rect x="320.8" y="161.043" width="4.4" height="11.213999999999995" fill="#f1dedb"/>
<rect x="301.9" y="183.0" width="10.5" height="10.2" rx="2.2" class="sh"/>
<rect x="303.3" y="184.4" width="7.7" height="7.4" rx="1.2" class="g"/>
<rect x="313.4" y="183.0" width="11.0" height="10.2" rx="2.2" class="sh"/>
<rect x="314.8" y="184.4" width="8.2" height="7.4" rx="1.2" class="g"/>
<path d="M320.65,194.6 L297.6,194.6 L297.6,221.9 L320.65,221.9" fill="none" stroke="#f1dedb" stroke-width="1.7"/>
<path d="M326.65,194.6 L349.7,194.6 L349.7,221.9 L326.65,221.9" fill="none" stroke="#f1dedb" stroke-width="1.7"/>
<rect x="301.2" y="197.4" width="20.0" height="21.6" rx="1.8" class="sh"/>
<rect x="302.6" y="198.8" width="17.2" height="18.8" rx="0.8" class="g"/>
<rect x="326.1" y="197.4" width="20.1" height="21.6" rx="1.8" class="sh"/>
<rect x="327.4" y="198.8" width="17.2" height="18.8" rx="0.8" class="g"/>
<rect x="321.45" y="202.517" width="4.4" height="11.466000000000005" fill="#f1dedb"/>
<rect x="78" y="219" width="3.4000000000000057" height="9.400000000000006" rx="1.4" fill="#f1dedb"/>
<rect x="83" y="228" width="9.700000000000003" height="3" rx="1.4" fill="#f1dedb"/>
<rect x="93.8" y="219" width="3.799999999999997" height="9.400000000000006" rx="1.4" fill="#f1dedb"/>
<rect x="93.8" y="231.5" width="3.799999999999997" height="9.0" rx="1.4" fill="#f1dedb"/>
<rect x="106.5" y="216" width="11.0" height="3" rx="1.4" fill="#f1dedb"/>
<rect x="102.4" y="219" width="3.3999999999999915" height="9.400000000000006" rx="1.4" fill="#f1dedb"/>
<rect x="118.6" y="219" width="3.8000000000000114" height="9.400000000000006" rx="1.4" fill="#f1dedb"/>
<rect x="106.5" y="228" width="11.0" height="3" rx="1.4" fill="#f1dedb"/>
<rect x="118.6" y="231.5" width="3.8000000000000114" height="9.0" rx="1.4" fill="#f1dedb"/>
<rect x="106.5" y="239.5" width="11.0" height="3.0999999999999943" rx="1.4" fill="#f1dedb"/>
<rect x="142.4" y="219" width="3.4000000000000057" height="9.400000000000006" rx="1.4" fill="#f1dedb"/>
<rect x="142.4" y="231.5" width="3.4000000000000057" height="9.0" rx="1.4" fill="#f1dedb"/>
<rect x="150.6" y="219" width="3.4000000000000057" height="9.400000000000006" rx="1.4" fill="#f1dedb"/>
<rect x="167" y="219" width="3.5999999999999943" height="9.400000000000006" rx="1.4" fill="#f1dedb"/>
<rect x="150.6" y="231.5" width="3.4000000000000057" height="9.0" rx="1.4" fill="#f1dedb"/>
<rect x="167" y="231.5" width="3.5999999999999943" height="9.0" rx="1.4" fill="#f1dedb"/>
<rect x="155.8" y="216" width="10.0" height="3" rx="1.4" fill="#f1dedb"/>
<rect x="155.8" y="228" width="10.0" height="3" rx="1.4" fill="#f1dedb"/>
<rect x="155.8" y="239.5" width="10.0" height="3.0999999999999943" rx="1.4" fill="#f1dedb"/>
<rect x="426.6" y="259.9" width="11.4" height="11.4" rx="2.5" class="sh"/>
<rect x="428.0" y="261.3" width="8.6" height="8.6" rx="1.5" class="g"/>
<rect x="426.6" y="271.6" width="11.4" height="11.4" rx="2.5" class="sh"/>
<rect x="428.0" y="273.0" width="8.6" height="8.6" rx="1.5" class="g"/>
<rect x="440.3" y="259.9" width="11.4" height="11.4" rx="2.5" class="sh"/>
<rect x="441.7" y="261.3" width="8.6" height="8.6" rx="1.5" class="g"/>
<rect x="440.3" y="271.6" width="11.4" height="11.4" rx="2.5" class="sh"/>
<rect x="441.7" y="273.0" width="8.6" height="8.6" rx="1.5" class="g"/>
<rect x="454.2" y="259.9" width="11.4" height="11.4" rx="2.5" class="sh"/>
<rect x="455.6" y="261.3" width="8.6" height="8.6" rx="1.5" class="g"/>
<rect x="454.2" y="271.6" width="11.4" height="11.4" rx="2.5" class="sh"/>
<rect x="455.6" y="273.0" width="8.6" height="8.6" rx="1.5" class="g"/>
<rect x="467.3" y="259.9" width="11.4" height="11.4" rx="2.5" class="sh"/>
<rect x="468.7" y="261.3" width="8.6" height="8.6" rx="1.5" class="g"/>
<rect x="467.3" y="271.6" width="11.4" height="11.4" rx="2.5" class="sh"/>
<rect x="468.7" y="273.0" width="8.6" height="8.6" rx="1.5" class="g"/>
<rect x="44.6" y="357.6" width="31.8" height="23.8" rx="1.8" class="sh"/>
<rect x="46.0" y="359.0" width="29.0" height="21.0" rx="0.8" class="g"/>
<rect x="44.6" y="402.6" width="31.8" height="17.8" rx="1.8" class="sh"/>
<rect x="46.0" y="404.0" width="29.0" height="15.0" rx="0.8" class="g"/>
<rect x="121.6" y="357.6" width="32.4" height="23.8" rx="1.8" class="sh"/>
<rect x="123.0" y="359.0" width="29.6" height="21.0" rx="0.8" class="g"/>
<rect x="121.6" y="402.6" width="32.4" height="17.8" rx="1.8" class="sh"/>
<rect x="123.0" y="404.0" width="29.6" height="15.0" rx="0.8" class="g"/>
<rect x="172.6" y="359.6" width="24.3" height="19.4" rx="1.8" class="sh"/>
<rect x="174.0" y="361.0" width="21.5" height="16.6" rx="0.8" class="g"/>
<rect x="203.2" y="357.6" width="20.2" height="23.8" rx="1.8" class="sh"/>
<rect x="204.6" y="359.0" width="17.4" height="21.0" rx="0.8" class="g"/>
<rect x="230.6" y="357.6" width="19.8" height="23.8" rx="1.8" class="sh"/>
<rect x="232.0" y="359.0" width="17.0" height="21.0" rx="0.8" class="g"/>
<rect x="255.6" y="359.6" width="23.8" height="19.4" rx="1.8" class="sh"/>
<rect x="257.0" y="361.0" width="21.0" height="16.6" rx="0.8" class="g"/>
<path d="M308.25,355.5 L284.5,355.5 L284.5,382 L308.25,382" fill="none" stroke="#f1dedb" stroke-width="1.7"/>
<path d="M313.25,355.5 L337,355.5 L337,382 L313.25,382" fill="none" stroke="#f1dedb" stroke-width="1.7"/>
<rect x="286.6" y="357.1" width="22.2" height="23.3" rx="1.8" class="sh"/>
<rect x="288.0" y="358.5" width="19.4" height="20.5" rx="0.8" class="g"/>
<rect x="312.7" y="357.1" width="22.2" height="23.3" rx="1.8" class="sh"/>
<rect x="314.1" y="358.5" width="19.4" height="20.5" rx="0.8" class="g"/>
<rect x="308.55" y="363.185" width="4.4" height="11.129999999999999" fill="#f1dedb"/>
<rect x="172.6" y="384.6" width="24.3" height="18.8" rx="1.8" class="sh"/>
<rect x="174.0" y="386.0" width="21.5" height="16.0" rx="0.8" class="g"/>
<rect x="255.6" y="384.6" width="23.8" height="18.8" rx="1.8" class="sh"/>
<rect x="257.0" y="386.0" width="21.0" height="16.0" rx="0.8" class="g"/>
<rect x="156.6" y="421.6" width="18.8" height="24.8" rx="1.8" class="sh"/>
<rect x="158.0" y="423.0" width="16.0" height="22.0" rx="0.8" class="g"/>
<rect x="181.6" y="421.6" width="20.8" height="24.8" rx="1.8" class="sh"/>
<rect x="183.0" y="423.0" width="18.0" height="22.0" rx="0.8" class="g"/>
<circle cx="330.0" cy="526.0" r="23.8" class="sh"/>
<circle cx="330.0" cy="526.0" r="22.6" class="g" style="fill:#d4c07c"/>
<circle cx="329.4" cy="525.1" r="13.2" fill="#9a8450" opacity="0.65"/>
<circle cx="330.0" cy="526.0" r="11.6" fill="#fff"/>
<circle cx="138.0" cy="599.0" r="12.3" class="sh"/>
<circle cx="138.0" cy="599.0" r="10.5" class="g"/>
<rect x="44.6" y="581" width="68" height="36.5" fill="#aba263"/>
<defs><linearGradient id="bg1" x1="0" y1="0" x2="0" y2="1"><stop offset="0" stop-color="#c31519"/><stop offset="1" stop-color="#a50f15"/></linearGradient></defs>
<rect x="652" y="35" width="112.60000000000002" height="63.900000000000006" fill="url(#bg1)" opacity="1"/>
<path d="M652,35 L652,98.9 L764.6,98.9 L764.6,35" fill="none" stroke="#f1dedb" stroke-width="1.8"/>
<circle cx="618.4" cy="40.7" r="2.3" fill="#f1dedb"/>
<rect x="624.6" y="38.6" width="26.6" height="18.1" rx="1.8" class="sh"/>
<rect x="626.0" y="40.0" width="23.8" height="15.3" rx="0.8" class="g"/>
<rect x="766.3" y="38.6" width="27.3" height="18.1" rx="1.8" class="sh"/>
<rect x="767.7" y="40.0" width="24.5" height="15.3" rx="0.8" class="g"/>
<rect x="624.6" y="57.7" width="26.6" height="13.5" rx="1.8" class="sh"/>
<rect x="626.0" y="59.1" width="23.8" height="10.7" rx="0.8" class="g"/>
<rect x="766.3" y="57.7" width="27.3" height="13.5" rx="1.8" class="sh"/>
<rect x="767.7" y="59.1" width="24.5" height="10.7" rx="0.8" class="g"/>
<rect x="624.6" y="71.5" width="26.6" height="13.5" rx="1.8" class="sh"/>
<rect x="626.0" y="72.9" width="23.8" height="10.7" rx="0.8" class="g"/>
<rect x="766.3" y="71.5" width="27.3" height="13.5" rx="1.8" class="sh"/>
<rect x="767.7" y="72.9" width="24.5" height="10.7" rx="0.8" class="g"/>
<rect x="624.6" y="85.2" width="26.6" height="13.5" rx="1.8" class="sh"/>
<rect x="626.0" y="86.7" width="23.8" height="10.7" rx="0.8" class="g"/>
<rect x="766.3" y="85.2" width="27.3" height="13.5" rx="1.8" class="sh"/>
<rect x="767.7" y="86.7" width="24.5" height="10.7" rx="0.8" class="g"/>
<rect x="624.6" y="99.1" width="26.6" height="13.5" rx="1.8" class="sh"/>
<rect x="626.0" y="100.5" width="23.8" height="10.7" rx="0.8" class="g"/>
<rect x="766.3" y="99.1" width="27.3" height="13.5" rx="1.8" class="sh"/>
<rect x="767.7" y="100.5" width="24.5" height="10.7" rx="0.8" class="g"/>
<rect x="624.6" y="112.9" width="26.6" height="13.5" rx="1.8" class="sh"/>
<rect x="626.0" y="114.3" width="23.8" height="10.7" rx="0.8" class="g"/>
<rect x="766.3" y="112.9" width="27.3" height="13.5" rx="1.8" class="sh"/>
<rect x="767.7" y="114.3" width="24.5" height="10.7" rx="0.8" class="g"/>
<rect x="624.6" y="126.7" width="26.6" height="13.5" rx="1.8" class="sh"/>
<rect x="626.0" y="128.1" width="23.8" height="10.7" rx="0.8" class="g"/>
<rect x="766.3" y="126.7" width="27.3" height="13.5" rx="1.8" class="sh"/>
<rect x="767.7" y="128.1" width="24.5" height="10.7" rx="0.8" class="g"/>
<rect x="624.6" y="140.5" width="26.6" height="13.5" rx="1.8" class="sh"/>
<rect x="626.0" y="141.9" width="23.8" height="10.7" rx="0.8" class="g"/>
<rect x="766.3" y="140.5" width="27.3" height="13.5" rx="1.8" class="sh"/>
<rect x="767.7" y="141.9" width="24.5" height="10.7" rx="0.8" class="g"/>
<rect x="624.6" y="154.2" width="26.6" height="13.5" rx="1.8" class="sh"/>
<rect x="626.0" y="155.7" width="23.8" height="10.7" rx="0.8" class="g"/>
<rect x="766.3" y="154.2" width="27.3" height="13.5" rx="1.8" class="sh"/>
<rect x="767.7" y="155.7" width="24.5" height="10.7" rx="0.8" class="g"/>
<rect x="624.6" y="168.1" width="26.6" height="13.5" rx="1.8" class="sh"/>
<rect x="626.0" y="169.5" width="23.8" height="10.7" rx="0.8" class="g"/>
<rect x="766.3" y="168.1" width="27.3" height="13.5" rx="1.8" class="sh"/>
<rect x="767.7" y="169.5" width="24.5" height="10.7" rx="0.8" class="g"/>
<rect x="624.6" y="181.9" width="26.6" height="13.5" rx="1.8" class="sh"/>
<rect x="626.0" y="183.3" width="23.8" height="10.7" rx="0.8" class="g"/>
<rect x="766.3" y="181.9" width="27.3" height="13.5" rx="1.8" class="sh"/>
<rect x="767.7" y="183.3" width="24.5" height="10.7" rx="0.8" class="g"/>
<rect x="624.6" y="195.7" width="26.6" height="13.5" rx="1.8" class="sh"/>
<rect x="626.0" y="197.1" width="23.8" height="10.7" rx="0.8" class="g"/>
<rect x="766.3" y="195.7" width="27.3" height="13.5" rx="1.8" class="sh"/>
<rect x="767.7" y="197.1" width="24.5" height="10.7" rx="0.8" class="g"/>
<rect x="624.6" y="209.5" width="26.6" height="13.5" rx="1.8" class="sh"/>
<rect x="626.0" y="210.9" width="23.8" height="10.7" rx="0.8" class="g"/>
<rect x="766.3" y="209.5" width="27.3" height="13.5" rx="1.8" class="sh"/>
<rect x="767.7" y="210.9" width="24.5" height="10.7" rx="0.8" class="g"/>
<rect x="671.7" y="214.6" width="13.8" height="24.8" rx="1.8" class="sh"/>
<rect x="673.1" y="216.0" width="11.0" height="22.0" rx="0.8" class="g"/>
<rect x="686.1" y="214.6" width="13.8" height="24.8" rx="1.8" class="sh"/>
<rect x="687.5" y="216.0" width="11.0" height="22.0" rx="0.8" class="g"/>
<rect x="701.1" y="214.6" width="13.8" height="24.8" rx="1.8" class="sh"/>
<rect x="702.5" y="216.0" width="11.0" height="22.0" rx="0.8" class="g"/>
<rect x="715.6" y="214.6" width="13.8" height="24.8" rx="1.8" class="sh"/>
<rect x="717.0" y="216.0" width="11.0" height="22.0" rx="0.8" class="g"/>
<rect x="730.1" y="214.6" width="13.8" height="24.8" rx="1.8" class="sh"/>
<rect x="731.5" y="216.0" width="11.0" height="22.0" rx="0.8" class="g"/>
<path d="M634,222 L634,229 L672,229 M744,229 L784,229 L784,222" fill="none" stroke="#f1dedb" stroke-width="1.4"/>
<circle cx="614.0" cy="134.0" r="11.8" class="sh"/>
<circle cx="614.0" cy="134.0" r="10" class="g"/>
<circle cx="803.3" cy="147.5" r="11.600000000000001" class="sh"/>
<circle cx="803.3" cy="147.5" r="9.8" class="g"/>
<circle cx="803.3" cy="188.6" r="11.600000000000001" class="sh"/>
<circle cx="803.3" cy="188.6" r="9.8" class="g"/>
<rect x="819.0" y="149.6" width="17.4" height="11.8" rx="1.8" class="sh"/>
<rect x="820.4" y="151.0" width="14.6" height="9.0" rx="0.8" class="g"/>
<rect x="837.4" y="149.6" width="12.0" height="12.8" rx="1.8" class="sh"/>
<rect x="838.8" y="151.0" width="9.2" height="10.0" rx="0.8" class="g"/>
<rect x="852.1" y="149.2" width="13.3" height="11.2" rx="1.8" class="sh"/>
<rect x="853.5" y="150.6" width="10.5" height="8.4" rx="0.8" class="g"/>
<rect x="867.4" y="149.2" width="12.6" height="11.2" rx="1.8" class="sh"/>
<rect x="868.8" y="150.6" width="9.8" height="8.4" rx="0.8" class="g"/>
<rect x="852.1" y="160.2" width="13.3" height="12.0" rx="1.8" class="sh"/>
<rect x="853.5" y="161.6" width="10.5" height="9.2" rx="0.8" class="g"/>
<rect x="867.4" y="160.2" width="12.6" height="12.0" rx="1.8" class="sh"/>
<rect x="868.8" y="161.6" width="9.8" height="9.2" rx="0.8" class="g"/>
<rect x="837.1" y="164.6" width="12.3" height="12.5" rx="1.8" class="sh"/>
<rect x="838.5" y="166.0" width="9.5" height="9.7" rx="0.8" class="g"/>
<rect x="817.6" y="170.6" width="18.3" height="11.4" rx="1.8" class="sh"/>
<rect x="819.0" y="172.0" width="15.5" height="8.6" rx="0.8" class="g"/>
<path d="M816,150 L816,147 L837.5,147 L837.5,150" fill="none" stroke="#f1dedb" stroke-width="1.4"/>
<path d="M816,179 L816,182.5 L837.5,182.5 L837.5,179" fill="none" stroke="#f1dedb" stroke-width="1.4"/>
<path d="M470,327 L799,327 L799,551 L470,551" fill="none" stroke="#f1dedb" stroke-width="2.0"/>
<path d="M414.5,327 L414.5,349 M414.5,526 L414.5,545" fill="none" stroke="#f1dedb" stroke-width="1.6"/>
<circle cx="413.7" cy="553" r="2.2" fill="#f1dedb"/>
<rect x="437.3" y="329.6" width="15.7" height="24.2" rx="1.8" class="sh"/>
<rect x="438.7" y="331.0" width="12.9" height="21.4" rx="0.8" class="g"/>
<rect x="437.3" y="523.4" width="15.7" height="24.2" rx="1.8" class="sh"/>
<rect x="438.7" y="524.8" width="12.9" height="21.4" rx="0.8" class="g"/>
<rect x="453.4" y="329.6" width="15.7" height="24.2" rx="1.8" class="sh"/>
<rect x="454.8" y="331.0" width="12.9" height="21.4" rx="0.8" class="g"/>
<rect x="453.4" y="523.4" width="15.7" height="24.2" rx="1.8" class="sh"/>
<rect x="454.8" y="524.8" width="12.9" height="21.4" rx="0.8" class="g"/>
<rect x="469.6" y="329.6" width="15.7" height="24.2" rx="1.8" class="sh"/>
<rect x="471.0" y="331.0" width="12.9" height="21.4" rx="0.8" class="g"/>
<rect x="469.6" y="523.4" width="15.7" height="24.2" rx="1.8" class="sh"/>
<rect x="471.0" y="524.8" width="12.9" height="21.4" rx="0.8" class="g"/>
<rect x="485.8" y="329.6" width="15.7" height="24.2" rx="1.8" class="sh"/>
<rect x="487.2" y="331.0" width="12.9" height="21.4" rx="0.8" class="g"/>
<rect x="485.8" y="523.4" width="15.7" height="24.2" rx="1.8" class="sh"/>
<rect x="487.2" y="524.8" width="12.9" height="21.4" rx="0.8" class="g"/>
<rect x="502.0" y="329.6" width="15.7" height="24.2" rx="1.8" class="sh"/>
<rect x="503.4" y="331.0" width="12.9" height="21.4" rx="0.8" class="g"/>
<rect x="502.0" y="523.4" width="15.7" height="24.2" rx="1.8" class="sh"/>
<rect x="503.4" y="524.8" width="12.9" height="21.4" rx="0.8" class="g"/>
<rect x="518.1" y="329.6" width="15.7" height="24.2" rx="1.8" class="sh"/>
<rect x="519.5" y="331.0" width="12.9" height="21.4" rx="0.8" class="g"/>
<rect x="518.1" y="523.4" width="15.7" height="24.2" rx="1.8" class="sh"/>
<rect x="519.5" y="524.8" width="12.9" height="21.4" rx="0.8" class="g"/>
<rect x="534.3" y="329.6" width="15.7" height="24.2" rx="1.8" class="sh"/>
<rect x="535.7" y="331.0" width="12.9" height="21.4" rx="0.8" class="g"/>
<rect x="534.3" y="523.4" width="15.7" height="24.2" rx="1.8" class="sh"/>
<rect x="535.7" y="524.8" width="12.9" height="21.4" rx="0.8" class="g"/>
<rect x="550.5" y="329.6" width="15.7" height="24.2" rx="1.8" class="sh"/>
<rect x="551.9" y="331.0" width="12.9" height="21.4" rx="0.8" class="g"/>
<rect x="550.5" y="523.4" width="15.7" height="24.2" rx="1.8" class="sh"/>
<rect x="551.9" y="524.8" width="12.9" height="21.4" rx="0.8" class="g"/>
<rect x="566.7" y="329.6" width="15.7" height="24.2" rx="1.8" class="sh"/>
<rect x="568.1" y="331.0" width="12.9" height="21.4" rx="0.8" class="g"/>
<rect x="566.7" y="523.4" width="15.7" height="24.2" rx="1.8" class="sh"/>
<rect x="568.1" y="524.8" width="12.9" height="21.4" rx="0.8" class="g"/>
<rect x="582.9" y="329.6" width="15.7" height="24.2" rx="1.8" class="sh"/>
<rect x="584.3" y="331.0" width="12.9" height="21.4" rx="0.8" class="g"/>
<rect x="582.9" y="523.4" width="15.7" height="24.2" rx="1.8" class="sh"/>
<rect x="584.3" y="524.8" width="12.9" height="21.4" rx="0.8" class="g"/>
<rect x="599.1" y="329.6" width="15.7" height="24.2" rx="1.8" class="sh"/>
<rect x="600.5" y="331.0" width="12.9" height="21.4" rx="0.8" class="g"/>
<rect x="599.1" y="523.4" width="15.7" height="24.2" rx="1.8" class="sh"/>
<rect x="600.5" y="524.8" width="12.9" height="21.4" rx="0.8" class="g"/>
<rect x="615.2" y="329.6" width="15.7" height="24.2" rx="1.8" class="sh"/>
<rect x="616.6" y="331.0" width="12.9" height="21.4" rx="0.8" class="g"/>
<rect x="615.2" y="523.4" width="15.7" height="24.2" rx="1.8" class="sh"/>
<rect x="616.6" y="524.8" width="12.9" height="21.4" rx="0.8" class="g"/>
<rect x="631.4" y="329.6" width="15.7" height="24.2" rx="1.8" class="sh"/>
<rect x="632.8" y="331.0" width="12.9" height="21.4" rx="0.8" class="g"/>
<rect x="631.4" y="523.4" width="15.7" height="24.2" rx="1.8" class="sh"/>
<rect x="632.8" y="524.8" width="12.9" height="21.4" rx="0.8" class="g"/>
<rect x="647.6" y="329.6" width="15.7" height="24.2" rx="1.8" class="sh"/>
<rect x="649.0" y="331.0" width="12.9" height="21.4" rx="0.8" class="g"/>
<rect x="647.6" y="523.4" width="15.7" height="24.2" rx="1.8" class="sh"/>
<rect x="649.0" y="524.8" width="12.9" height="21.4" rx="0.8" class="g"/>
<rect x="663.8" y="329.6" width="15.7" height="24.2" rx="1.8" class="sh"/>
<rect x="665.2" y="331.0" width="12.9" height="21.4" rx="0.8" class="g"/>
<rect x="663.8" y="523.4" width="15.7" height="24.2" rx="1.8" class="sh"/>
<rect x="665.2" y="524.8" width="12.9" height="21.4" rx="0.8" class="g"/>
<rect x="679.9" y="329.6" width="15.7" height="24.2" rx="1.8" class="sh"/>
<rect x="681.3" y="331.0" width="12.9" height="21.4" rx="0.8" class="g"/>
<rect x="679.9" y="523.4" width="15.7" height="24.2" rx="1.8" class="sh"/>
<rect x="681.3" y="524.8" width="12.9" height="21.4" rx="0.8" class="g"/>
<rect x="696.1" y="329.6" width="15.7" height="24.2" rx="1.8" class="sh"/>
<rect x="697.5" y="331.0" width="12.9" height="21.4" rx="0.8" class="g"/>
<rect x="696.1" y="523.4" width="15.7" height="24.2" rx="1.8" class="sh"/>
<rect x="697.5" y="524.8" width="12.9" height="21.4" rx="0.8" class="g"/>
<rect x="712.3" y="329.6" width="15.7" height="24.2" rx="1.8" class="sh"/>
<rect x="713.7" y="331.0" width="12.9" height="21.4" rx="0.8" class="g"/>
<rect x="712.3" y="523.4" width="15.7" height="24.2" rx="1.8" class="sh"/>
<rect x="713.7" y="524.8" width="12.9" height="21.4" rx="0.8" class="g"/>
<rect x="728.5" y="329.6" width="15.7" height="24.2" rx="1.8" class="sh"/>
<rect x="729.9" y="331.0" width="12.9" height="21.4" rx="0.8" class="g"/>
<rect x="728.5" y="523.4" width="15.7" height="24.2" rx="1.8" class="sh"/>
<rect x="729.9" y="524.8" width="12.9" height="21.4" rx="0.8" class="g"/>
<rect x="744.7" y="329.6" width="15.7" height="24.2" rx="1.8" class="sh"/>
<rect x="746.1" y="331.0" width="12.9" height="21.4" rx="0.8" class="g"/>
<rect x="744.7" y="523.4" width="15.7" height="24.2" rx="1.8" class="sh"/>
<rect x="746.1" y="524.8" width="12.9" height="21.4" rx="0.8" class="g"/>
<rect x="760.9" y="329.6" width="15.7" height="24.2" rx="1.8" class="sh"/>
<rect x="762.2" y="331.0" width="12.9" height="21.4" rx="0.8" class="g"/>
<rect x="760.9" y="523.4" width="15.7" height="24.2" rx="1.8" class="sh"/>
<rect x="762.2" y="524.8" width="12.9" height="21.4" rx="0.8" class="g"/>
<rect x="417.6" y="355.1" width="26.2" height="14.4" rx="1.8" class="sh"/>
<rect x="419.0" y="356.5" width="23.4" height="11.6" rx="0.8" class="g"/>
<rect x="770.1" y="355.1" width="26.0" height="14.4" rx="1.8" class="sh"/>
<rect x="771.5" y="356.5" width="23.2" height="11.6" rx="0.8" class="g"/>
<rect x="417.6" y="370.4" width="26.2" height="14.4" rx="1.8" class="sh"/>
<rect x="419.0" y="371.8" width="23.4" height="11.6" rx="0.8" class="g"/>
<rect x="770.1" y="370.4" width="26.0" height="14.4" rx="1.8" class="sh"/>
<rect x="771.5" y="371.8" width="23.2" height="11.6" rx="0.8" class="g"/>
<rect x="417.6" y="385.7" width="26.2" height="14.4" rx="1.8" class="sh"/>
<rect x="419.0" y="387.1" width="23.4" height="11.6" rx="0.8" class="g"/>
<rect x="770.1" y="385.7" width="26.0" height="14.4" rx="1.8" class="sh"/>
<rect x="771.5" y="387.1" width="23.2" height="11.6" rx="0.8" class="g"/>
<rect x="417.6" y="401.0" width="26.2" height="14.4" rx="1.8" class="sh"/>
<rect x="419.0" y="402.4" width="23.4" height="11.6" rx="0.8" class="g"/>
<rect x="770.1" y="401.0" width="26.0" height="14.4" rx="1.8" class="sh"/>
<rect x="771.5" y="402.4" width="23.2" height="11.6" rx="0.8" class="g"/>
<rect x="417.6" y="416.3" width="26.2" height="14.4" rx="1.8" class="sh"/>
<rect x="419.0" y="417.7" width="23.4" height="11.6" rx="0.8" class="g"/>
<rect x="770.1" y="416.3" width="26.0" height="14.4" rx="1.8" class="sh"/>
<rect x="771.5" y="417.7" width="23.2" height="11.6" rx="0.8" class="g"/>
<rect x="417.6" y="431.6" width="26.2" height="14.4" rx="1.8" class="sh"/>
<rect x="419.0" y="433.0" width="23.4" height="11.6" rx="0.8" class="g"/>
<rect x="770.1" y="431.6" width="26.0" height="14.4" rx="1.8" class="sh"/>
<rect x="771.5" y="433.0" width="23.2" height="11.6" rx="0.8" class="g"/>
<rect x="417.6" y="446.9" width="26.2" height="14.4" rx="1.8" class="sh"/>
<rect x="419.0" y="448.3" width="23.4" height="11.6" rx="0.8" class="g"/>
<rect x="770.1" y="446.9" width="26.0" height="14.4" rx="1.8" class="sh"/>
<rect x="771.5" y="448.3" width="23.2" height="11.6" rx="0.8" class="g"/>
<rect x="417.6" y="462.2" width="26.2" height="14.4" rx="1.8" class="sh"/>
<rect x="419.0" y="463.6" width="23.4" height="11.6" rx="0.8" class="g"/>
<rect x="770.1" y="462.2" width="26.0" height="14.4" rx="1.8" class="sh"/>
<rect x="771.5" y="463.6" width="23.2" height="11.6" rx="0.8" class="g"/>
<rect x="417.6" y="477.5" width="26.2" height="14.4" rx="1.8" class="sh"/>
<rect x="419.0" y="478.9" width="23.4" height="11.6" rx="0.8" class="g"/>
<rect x="770.1" y="477.5" width="26.0" height="14.4" rx="1.8" class="sh"/>
<rect x="771.5" y="478.9" width="23.2" height="11.6" rx="0.8" class="g"/>
<rect x="417.6" y="492.8" width="26.2" height="14.4" rx="1.8" class="sh"/>
<rect x="419.0" y="494.2" width="23.4" height="11.6" rx="0.8" class="g"/>
<rect x="770.1" y="492.8" width="26.0" height="14.4" rx="1.8" class="sh"/>
<rect x="771.5" y="494.2" width="23.2" height="11.6" rx="0.8" class="g"/>
<rect x="417.6" y="508.1" width="26.2" height="14.4" rx="1.8" class="sh"/>
<rect x="419.0" y="509.5" width="23.4" height="11.6" rx="0.8" class="g"/>
<rect x="770.1" y="508.1" width="26.0" height="14.4" rx="1.8" class="sh"/>
<rect x="771.5" y="509.5" width="23.2" height="11.6" rx="0.8" class="g"/>
<rect x="445.5" y="356.1" width="20.3" height="19.8" rx="2" class="sh"/>
<rect x="446.9" y="357.5" width="17.5" height="17.0" rx="1" class="g"/>
<rect x="471.9" y="356.1" width="20.3" height="19.8" rx="2" class="sh"/>
<rect x="473.2" y="357.5" width="17.5" height="17.0" rx="1" class="g"/>
<rect x="498.6" y="356.1" width="20.3" height="19.8" rx="2" class="sh"/>
<rect x="499.9" y="357.5" width="17.5" height="17.0" rx="1" class="g"/>
<rect x="551.9" y="356.1" width="20.3" height="19.8" rx="2" class="sh"/>
<rect x="553.2" y="357.5" width="17.5" height="17.0" rx="1" class="g"/>
<rect x="641.4" y="356.1" width="20.3" height="19.8" rx="2" class="sh"/>
<rect x="642.8" y="357.5" width="17.5" height="17.0" rx="1" class="g"/>
<rect x="694.9" y="356.1" width="20.3" height="19.8" rx="2" class="sh"/>
<rect x="696.2" y="357.5" width="17.5" height="17.0" rx="1" class="g"/>
<rect x="720.9" y="356.1" width="20.3" height="19.8" rx="2" class="sh"/>
<rect x="722.2" y="357.5" width="17.5" height="17.0" rx="1" class="g"/>
<rect x="747.9" y="356.1" width="20.3" height="19.8" rx="2" class="sh"/>
<rect x="749.2" y="357.5" width="17.5" height="17.0" rx="1" class="g"/>
<rect x="445.5" y="502.6" width="20.3" height="19.8" rx="2" class="sh"/>
<rect x="446.9" y="504.0" width="17.5" height="17.0" rx="1" class="g"/>
<rect x="471.9" y="502.6" width="20.3" height="19.8" rx="2" class="sh"/>
<rect x="473.2" y="504.0" width="17.5" height="17.0" rx="1" class="g"/>
<rect x="498.6" y="502.6" width="20.3" height="19.8" rx="2" class="sh"/>
<rect x="499.9" y="504.0" width="17.5" height="17.0" rx="1" class="g"/>
<rect x="551.9" y="502.6" width="20.3" height="19.8" rx="2" class="sh"/>
<rect x="553.2" y="504.0" width="17.5" height="17.0" rx="1" class="g"/>
<rect x="641.4" y="502.6" width="20.3" height="19.8" rx="2" class="sh"/>
<rect x="642.8" y="504.0" width="17.5" height="17.0" rx="1" class="g"/>
<rect x="694.9" y="502.6" width="20.3" height="19.8" rx="2" class="sh"/>
<rect x="696.2" y="504.0" width="17.5" height="17.0" rx="1" class="g"/>
<rect x="720.9" y="502.6" width="20.3" height="19.8" rx="2" class="sh"/>
<rect x="722.2" y="504.0" width="17.5" height="17.0" rx="1" class="g"/>
<rect x="747.9" y="502.6" width="20.3" height="19.8" rx="2" class="sh"/>
<rect x="749.2" y="504.0" width="17.5" height="17.0" rx="1" class="g"/>
<rect x="445.5" y="385.6" width="20.3" height="19.8" rx="2" class="sh"/>
<rect x="446.9" y="387.0" width="17.5" height="17.0" rx="1" class="g"/>
<rect x="471.9" y="385.6" width="20.3" height="19.8" rx="2" class="sh"/>
<rect x="473.2" y="387.0" width="17.5" height="17.0" rx="1" class="g"/>
<rect x="720.9" y="385.6" width="20.3" height="19.8" rx="2" class="sh"/>
<rect x="722.2" y="387.0" width="17.5" height="17.0" rx="1" class="g"/>
<rect x="747.9" y="385.6" width="20.3" height="19.8" rx="2" class="sh"/>
<rect x="749.2" y="387.0" width="17.5" height="17.0" rx="1" class="g"/>
<rect x="445.5" y="414.6" width="20.3" height="19.8" rx="2" class="sh"/>
<rect x="446.9" y="416.0" width="17.5" height="17.0" rx="1" class="g"/>
<rect x="471.9" y="414.6" width="20.3" height="19.8" rx="2" class="sh"/>
<rect x="473.2" y="416.0" width="17.5" height="17.0" rx="1" class="g"/>
<rect x="720.9" y="414.6" width="20.3" height="19.8" rx="2" class="sh"/>
<rect x="722.2" y="416.0" width="17.5" height="17.0" rx="1" class="g"/>
<rect x="747.9" y="414.6" width="20.3" height="19.8" rx="2" class="sh"/>
<rect x="749.2" y="416.0" width="17.5" height="17.0" rx="1" class="g"/>
<rect x="445.5" y="444.1" width="20.3" height="19.8" rx="2" class="sh"/>
<rect x="446.9" y="445.5" width="17.5" height="17.0" rx="1" class="g"/>
<rect x="471.9" y="444.1" width="20.3" height="19.8" rx="2" class="sh"/>
<rect x="473.2" y="445.5" width="17.5" height="17.0" rx="1" class="g"/>
<rect x="720.9" y="444.1" width="20.3" height="19.8" rx="2" class="sh"/>
<rect x="722.2" y="445.5" width="17.5" height="17.0" rx="1" class="g"/>
<rect x="747.9" y="444.1" width="20.3" height="19.8" rx="2" class="sh"/>
<rect x="749.2" y="445.5" width="17.5" height="17.0" rx="1" class="g"/>
<rect x="445.5" y="473.1" width="20.3" height="19.8" rx="2" class="sh"/>
<rect x="446.9" y="474.5" width="17.5" height="17.0" rx="1" class="g"/>
<rect x="471.9" y="473.1" width="20.3" height="19.8" rx="2" class="sh"/>
<rect x="473.2" y="474.5" width="17.5" height="17.0" rx="1" class="g"/>
<rect x="720.9" y="473.1" width="20.3" height="19.8" rx="2" class="sh"/>
<rect x="722.2" y="474.5" width="17.5" height="17.0" rx="1" class="g"/>
<rect x="747.9" y="473.1" width="20.3" height="19.8" rx="2" class="sh"/>
<rect x="749.2" y="474.5" width="17.5" height="17.0" rx="1" class="g"/>
<circle cx="490.0" cy="575.5" r="11.600000000000001" class="sh"/>
<circle cx="490.0" cy="575.5" r="9.8" class="g"/>
<circle cx="514.6" cy="575.5" r="11.600000000000001" class="sh"/>
<circle cx="514.6" cy="575.5" r="9.8" class="g"/>
<circle cx="540.0" cy="575.5" r="11.600000000000001" class="sh"/>
<circle cx="540.0" cy="575.5" r="9.8" class="g"/>
<circle cx="565.6" cy="575.5" r="11.600000000000001" class="sh"/>
<circle cx="565.6" cy="575.5" r="9.8" class="g"/>
<circle cx="605.6" cy="575.5" r="11.600000000000001" class="sh"/>
<circle cx="605.6" cy="575.5" r="9.8" class="g"/>
<circle cx="671.0" cy="575.5" r="11.600000000000001" class="sh"/>
<circle cx="671.0" cy="575.5" r="9.8" class="g"/>
<circle cx="720.0" cy="575.5" r="11.600000000000001" class="sh"/>
<circle cx="720.0" cy="575.5" r="9.8" class="g"/>
<circle cx="744.6" cy="575.5" r="11.600000000000001" class="sh"/>
<circle cx="744.6" cy="575.5" r="9.8" class="g"/>
<rect x="611.6" y="594.1" width="11.3" height="9.3" rx="1.8" class="sh"/>
<rect x="613.0" y="595.5" width="8.5" height="6.5" rx="0.8" class="g"/>
<rect x="624.2" y="594.1" width="10.7" height="9.3" rx="1.8" class="sh"/>
<rect x="625.6" y="595.5" width="7.9" height="6.5" rx="0.8" class="g"/>
<rect x="638.3" y="594.1" width="10.8" height="9.3" rx="1.8" class="sh"/>
<rect x="639.7" y="595.5" width="8.0" height="6.5" rx="0.8" class="g"/>
<rect x="650.2" y="594.1" width="11.2" height="9.3" rx="1.8" class="sh"/>
<rect x="651.6" y="595.5" width="8.4" height="6.5" rx="0.8" class="g"/>
<circle cx="834.6" cy="377.5" r="11.4" class="sh"/>
<circle cx="834.6" cy="377.5" r="9.6" class="g"/>
<circle cx="834.6" cy="402.0" r="11.4" class="sh"/>
<circle cx="834.6" cy="402.0" r="9.6" class="g"/>
<circle cx="834.6" cy="427.0" r="11.4" class="sh"/>
<circle cx="834.6" cy="427.0" r="9.6" class="g"/>
<circle cx="834.6" cy="452.0" r="11.4" class="sh"/>
<circle cx="834.6" cy="452.0" r="9.6" class="g"/>
<circle cx="834.6" cy="476.6" r="11.4" class="sh"/>
<circle cx="834.6" cy="476.6" r="9.6" class="g"/>
<circle cx="834.6" cy="502.0" r="11.4" class="sh"/>
<circle cx="834.6" cy="502.0" r="9.6" class="g"/>
<rect x="846.6" y="442.6" width="20.8" height="26.8" rx="1.8" class="sh"/>
<rect x="848.0" y="444.0" width="18.0" height="24.0" rx="0.8" class="g"/>
<rect x="885.6" y="442.6" width="21.8" height="26.8" rx="1.8" class="sh"/>
<rect x="887.0" y="444.0" width="19.0" height="24.0" rx="0.8" class="g"/>
<path d="M868,444 L884,444 M868,468 L884,468" fill="none" stroke="#f1dedb" stroke-width="1.6"/>
<path d="M955,195 L928,195 L928,449.4 L954,449.4" fill="none" stroke="#f1dedb" stroke-width="2.0"/>
<rect x="958.3" y="196.1" width="47.8" height="43.9" rx="1.6" class="sh"/>
<rect x="959.7" y="197.5" width="45.0" height="41.1" rx="0.6" class="g"/>
<rect x="956.6" y="406.2" width="48.3" height="43.7" rx="1.6" class="sh"/>
<rect x="958.0" y="407.6" width="45.5" height="40.9" rx="0.6" class="g"/>
<rect x="1003.4" y="238.7" width="27.8" height="7.4" rx="2.2" class="sh"/>
<rect x="1004.8" y="240.1" width="25.0" height="4.6" rx="1.2" class="g"/>
<rect x="1003.4" y="245.7" width="27.8" height="7.4" rx="2.2" class="sh"/>
<rect x="1004.8" y="247.1" width="25.0" height="4.6" rx="1.2" class="g"/>
<rect x="1003.4" y="252.6" width="27.8" height="7.4" rx="2.2" class="sh"/>
<rect x="1004.8" y="254.0" width="25.0" height="4.6" rx="1.2" class="g"/>
<rect x="1003.4" y="259.6" width="27.8" height="7.4" rx="2.2" class="sh"/>
<rect x="1004.8" y="261.0" width="25.0" height="4.6" rx="1.2" class="g"/>
<rect x="1003.4" y="266.6" width="27.8" height="7.4" rx="2.2" class="sh"/>
<rect x="1004.8" y="268.0" width="25.0" height="4.6" rx="1.2" class="g"/>
<rect x="1003.4" y="273.6" width="27.8" height="7.4" rx="2.2" class="sh"/>
<rect x="1004.8" y="274.9" width="25.0" height="4.6" rx="1.2" class="g"/>
<rect x="1003.4" y="280.5" width="27.8" height="7.4" rx="2.2" class="sh"/>
<rect x="1004.8" y="281.9" width="25.0" height="4.6" rx="1.2" class="g"/>
<rect x="1003.4" y="287.5" width="27.8" height="7.4" rx="2.2" class="sh"/>
<rect x="1004.8" y="288.9" width="25.0" height="4.6" rx="1.2" class="g"/>
<rect x="1003.4" y="294.5" width="27.8" height="7.4" rx="2.2" class="sh"/>
<rect x="1004.8" y="295.9" width="25.0" height="4.6" rx="1.2" class="g"/>
<rect x="1003.4" y="301.4" width="27.8" height="7.4" rx="2.2" class="sh"/>
<rect x="1004.8" y="302.8" width="25.0" height="4.6" rx="1.2" class="g"/>
<rect x="1003.4" y="308.4" width="27.8" height="7.4" rx="2.2" class="sh"/>
<rect x="1004.8" y="309.8" width="25.0" height="4.6" rx="1.2" class="g"/>
<rect x="1003.4" y="315.4" width="27.8" height="7.4" rx="2.2" class="sh"/>
<rect x="1004.8" y="316.8" width="25.0" height="4.6" rx="1.2" class="g"/>
<rect x="1003.4" y="322.3" width="27.8" height="7.4" rx="2.2" class="sh"/>
<rect x="1004.8" y="323.7" width="25.0" height="4.6" rx="1.2" class="g"/>
<rect x="1003.4" y="329.3" width="27.8" height="7.4" rx="2.2" class="sh"/>
<rect x="1004.8" y="330.7" width="25.0" height="4.6" rx="1.2" class="g"/>
<rect x="1003.4" y="336.3" width="27.8" height="7.4" rx="2.2" class="sh"/>
<rect x="1004.8" y="337.7" width="25.0" height="4.6" rx="1.2" class="g"/>
<rect x="1003.4" y="343.2" width="27.8" height="7.4" rx="2.2" class="sh"/>
<rect x="1004.8" y="344.6" width="25.0" height="4.6" rx="1.2" class="g"/>
<rect x="1003.4" y="350.2" width="27.8" height="7.4" rx="2.2" class="sh"/>
<rect x="1004.8" y="351.6" width="25.0" height="4.6" rx="1.2" class="g"/>
<rect x="1003.4" y="357.2" width="27.8" height="7.4" rx="2.2" class="sh"/>
<rect x="1004.8" y="358.6" width="25.0" height="4.6" rx="1.2" class="g"/>
<rect x="1003.4" y="364.2" width="27.8" height="7.4" rx="2.2" class="sh"/>
<rect x="1004.8" y="365.6" width="25.0" height="4.6" rx="1.2" class="g"/>
<rect x="1003.4" y="371.1" width="27.8" height="7.4" rx="2.2" class="sh"/>
<rect x="1004.8" y="372.5" width="25.0" height="4.6" rx="1.2" class="g"/>
<rect x="1003.4" y="378.1" width="27.8" height="7.4" rx="2.2" class="sh"/>
<rect x="1004.8" y="379.5" width="25.0" height="4.6" rx="1.2" class="g"/>
<rect x="1003.4" y="385.1" width="27.8" height="7.4" rx="2.2" class="sh"/>
<rect x="1004.8" y="386.5" width="25.0" height="4.6" rx="1.2" class="g"/>
<rect x="1003.4" y="392.0" width="27.8" height="7.4" rx="2.2" class="sh"/>
<rect x="1004.8" y="393.4" width="25.0" height="4.6" rx="1.2" class="g"/>
<rect x="1003.4" y="399.0" width="27.8" height="7.4" rx="2.2" class="sh"/>
<rect x="1004.8" y="400.4" width="25.0" height="4.6" rx="1.2" class="g"/>
<circle cx="998.7" cy="384.0" r="5.8" class="sh"/>
<circle cx="998.7" cy="384.0" r="4" class="g"/>
<rect x="1077" y="44" width="766" height="201" fill="none" stroke="#f1dedb" stroke-width="2.0"/>
<rect x="1077" y="405.5" width="765" height="204.5" fill="none" stroke="#f1dedb" stroke-width="2.0"/>
<rect x="1104.5" y="262" width="223.5" height="127.39999999999998" fill="none" stroke="#f1dedb" stroke-width="2.2"/>
<rect x="1111.3" y="265.6" width="20.1" height="31.8" rx="1.8" class="sh"/>
<rect x="1112.7" y="267.0" width="17.3" height="29.0" rx="0.8" class="g"/>
<rect x="1111.3" y="353.6" width="20.1" height="31.8" rx="1.8" class="sh"/>
<rect x="1112.7" y="355.0" width="17.3" height="29.0" rx="0.8" class="g"/>
<rect x="1186.1" y="265.6" width="20.8" height="31.8" rx="1.8" class="sh"/>
<rect x="1187.5" y="267.0" width="18.0" height="29.0" rx="0.8" class="g"/>
<rect x="1186.1" y="353.6" width="20.8" height="31.8" rx="1.8" class="sh"/>
<rect x="1187.5" y="355.0" width="18.0" height="29.0" rx="0.8" class="g"/>
<rect x="1223.6" y="265.6" width="20.8" height="31.8" rx="1.8" class="sh"/>
<rect x="1225.0" y="267.0" width="18.0" height="29.0" rx="0.8" class="g"/>
<rect x="1223.6" y="353.6" width="20.8" height="31.8" rx="1.8" class="sh"/>
<rect x="1225.0" y="355.0" width="18.0" height="29.0" rx="0.8" class="g"/>
<rect x="1261.6" y="265.6" width="20.4" height="31.8" rx="1.8" class="sh"/>
<rect x="1263.0" y="267.0" width="17.6" height="29.0" rx="0.8" class="g"/>
<rect x="1261.6" y="353.6" width="20.4" height="31.8" rx="1.8" class="sh"/>
<rect x="1263.0" y="355.0" width="17.6" height="29.0" rx="0.8" class="g"/>
<rect x="1300.1" y="265.6" width="19.7" height="31.8" rx="1.8" class="sh"/>
<rect x="1301.5" y="267.0" width="16.9" height="29.0" rx="0.8" class="g"/>
<rect x="1300.1" y="353.6" width="19.7" height="31.8" rx="1.8" class="sh"/>
<rect x="1301.5" y="355.0" width="16.9" height="29.0" rx="0.8" class="g"/>
<circle cx="1120" cy="248" r="6" fill="#c9bdbd"/>
<circle cx="1039.0" cy="151.5" r="11.8" class="sh"/>
<circle cx="1039.0" cy="151.5" r="10" class="g"/>
<circle cx="1088.0" cy="288.0" r="11.8" class="sh"/>
<circle cx="1088.0" cy="288.0" r="10" class="g"/>
<circle cx="1090.0" cy="367.0" r="11.0" class="sh"/>
<circle cx="1090.0" cy="367.0" r="9.2" class="g"/>
<circle cx="1054.0" cy="416.0" r="11.0" class="sh"/>
<circle cx="1054.0" cy="416.0" r="9.2" class="g"/>
<circle cx="1093.0" cy="417.0" r="11.0" class="sh"/>
<circle cx="1093.0" cy="417.0" r="9.2" class="g"/>
<circle cx="1352.0" cy="323.6" r="11.8" class="sh"/>
<circle cx="1352.0" cy="323.6" r="10" class="g"/>
<circle cx="1344.6" cy="366.7" r="11.8" class="sh"/>
<circle cx="1344.6" cy="366.7" r="10" class="g"/>
<circle cx="1308.0" cy="397.0" r="11.8" class="sh"/>
<circle cx="1308.0" cy="397.0" r="10" class="g"/>
<circle cx="1354.0" cy="396.4" r="11.8" class="sh"/>
<circle cx="1354.0" cy="396.4" r="10" class="g"/>
<circle cx="1389.2" cy="256.8" r="11.8" class="sh"/>
<circle cx="1389.2" cy="256.8" r="10" class="g"/>
<circle cx="1861.0" cy="57.0" r="11.8" class="sh"/>
<circle cx="1861.0" cy="57.0" r="10" class="g"/>
<circle cx="1860.0" cy="599.0" r="11.8" class="sh"/>
<circle cx="1860.0" cy="599.0" r="10" class="g"/>
<rect x="1079.1" y="131.6" width="19.9" height="25.8" rx="9.85" class="sh"/>
<rect x="1080.2" y="132.7" width="17.7" height="23.6" rx="8.85" class="g"/>
<rect x="1085.2" y="138.0" width="7.6" height="13" rx="3.8" fill="#fff"/>
<rect x="1827.0" y="133.8" width="18.7" height="25.2" rx="9.25" class="sh"/>
<rect x="1828.0" y="134.9" width="16.5" height="23" rx="8.25" class="g"/>
<rect x="1831.8" y="139.7" width="9" height="13.5" rx="4.5" fill="#fff"/>
<rect x="1077.7" y="494.5" width="21.2" height="26.599999999999998" rx="10.5" class="sh"/>
<rect x="1078.8" y="495.6" width="19" height="24.4" rx="9.5" class="g"/>
<rect x="1084.5" y="499.8" width="7.6" height="16" rx="3.8" fill="#fff"/>
<rect x="1826.5" y="495.3" width="18.599999999999998" height="26.2" rx="9.2" class="sh"/>
<rect x="1827.6" y="496.4" width="16.4" height="24" rx="8.2" class="g"/>
<rect x="1831.8" y="500.2" width="8" height="16.4" rx="4.0" fill="#fff"/>
<rect x="1043.3" y="358.6" width="11.5" height="17.8" rx="1.8" class="sh"/>
<rect x="1044.7" y="360.0" width="8.7" height="15.0" rx="0.8" class="g"/>
<rect x="1065.6" y="358.6" width="11.8" height="17.8" rx="1.8" class="sh"/>
<rect x="1067.0" y="360.0" width="9.0" height="15.0" rx="0.8" class="g"/>
<rect x="1043.3" y="381.6" width="11.5" height="17.8" rx="1.8" class="sh"/>
<rect x="1044.7" y="383.0" width="8.7" height="15.0" rx="0.8" class="g"/>
<rect x="1065.6" y="381.6" width="11.8" height="17.8" rx="1.8" class="sh"/>
<rect x="1067.0" y="383.0" width="9.0" height="15.0" rx="0.8" class="g"/>
<path d="M1043,358 L1041,358 L1041,400 L1043,400" fill="none" stroke="#f1dedb" stroke-width="1.4"/>
<path d="M1078,358 L1080,358 L1080,400 L1078,400" fill="none" stroke="#f1dedb" stroke-width="1.4"/>
<path d="M1548.5,72.5 L1525.5,72.5 L1525.5,99.5 L1548.5,99.5" fill="none" stroke="#f1dedb" stroke-width="1.7"/>
<path d="M1553.5,72.5 L1576.5,72.5 L1576.5,99.5 L1553.5,99.5" fill="none" stroke="#f1dedb" stroke-width="1.7"/>
<rect x="1527.6" y="74.1" width="21.5" height="23.9" rx="1.8" class="sh"/>
<rect x="1529.0" y="75.5" width="18.7" height="21.1" rx="0.8" class="g"/>
<rect x="1552.9" y="74.1" width="21.5" height="23.9" rx="1.8" class="sh"/>
<rect x="1554.3" y="75.5" width="18.7" height="21.1" rx="0.8" class="g"/>
<rect x="1548.8" y="80.33" width="4.4" height="11.34" fill="#f1dedb"/>
<path d="M1536.5,196.5 L1512.5,196.5 L1512.5,225 L1536.5,225" fill="none" stroke="#f1dedb" stroke-width="1.7"/>
<path d="M1541.5,196.5 L1565.5,196.5 L1565.5,225 L1541.5,225" fill="none" stroke="#f1dedb" stroke-width="1.7"/>
<rect x="1514.6" y="198.1" width="22.5" height="25.4" rx="1.8" class="sh"/>
<rect x="1516.0" y="199.5" width="19.7" height="22.6" rx="0.8" class="g"/>
<rect x="1540.9" y="198.1" width="22.5" height="25.4" rx="1.8" class="sh"/>
<rect x="1542.3" y="199.5" width="19.7" height="22.6" rx="0.8" class="g"/>
<rect x="1536.8" y="204.765" width="4.4" height="11.969999999999999" fill="#f1dedb"/>
<circle cx="1597.6" cy="101.0" r="12.399999999999999" class="sh"/>
<circle cx="1597.6" cy="101.0" r="11.2" class="g" style="fill:#d4c07c"/>
<circle cx="1597.0" cy="100.1" r="8.8" fill="#9a8450" opacity="0.65"/>
<circle cx="1597.6" cy="101.0" r="7.2" fill="#fff"/>
<circle cx="1597.6" cy="146.3" r="12.399999999999999" class="sh"/>
<circle cx="1597.6" cy="146.3" r="11.2" class="g" style="fill:#d4c07c"/>
<circle cx="1597.0" cy="145.4" r="8.8" fill="#9a8450" opacity="0.65"/>
<circle cx="1597.6" cy="146.3" r="7.2" fill="#fff"/>
<rect x="1130.3" y="125.6" width="14.5" height="17.3" rx="1.8" class="sh"/>
<rect x="1131.7" y="127.0" width="11.7" height="14.5" rx="0.8" class="g"/>
<rect x="1153.6" y="126.6" width="12.8" height="16.3" rx="1.8" class="sh"/>
<rect x="1155.0" y="128.0" width="10.0" height="13.5" rx="0.8" class="g"/>
<rect x="1114.3" y="144.6" width="13.1" height="16.8" rx="1.8" class="sh"/>
<rect x="1115.7" y="146.0" width="10.3" height="14.0" rx="0.8" class="g"/>
<rect x="1136.1" y="144.6" width="13.0" height="16.8" rx="1.8" class="sh"/>
<rect x="1137.5" y="146.0" width="10.2" height="14.0" rx="0.8" class="g"/>
<path d="M1132,126 L1130,126 L1130,143 L1132,143 M1164,126 L1167,126 L1167,143 L1164,143" fill="none" stroke="#f1dedb" stroke-width="1.3"/>
<path d="M1116,144 L1113,144 L1113,162 L1116,162 M1147,144 L1149,144 L1149,162 L1147,162" fill="none" stroke="#f1dedb" stroke-width="1.3"/>
<rect x="1237.5" y="82.1" width="12.3" height="11.8" rx="2" class="sh"/>
<rect x="1239.0" y="83.5" width="9.5" height="9.0" rx="1" class="g"/>
<rect x="1237.5" y="92.6" width="12.3" height="11.8" rx="2" class="sh"/>
<rect x="1239.0" y="94.0" width="9.5" height="9.0" rx="1" class="g"/>
<rect x="1249.8" y="82.1" width="12.3" height="11.8" rx="2" class="sh"/>
<rect x="1251.2" y="83.5" width="9.5" height="9.0" rx="1" class="g"/>
<rect x="1249.8" y="92.6" width="12.3" height="11.8" rx="2" class="sh"/>
<rect x="1251.2" y="94.0" width="9.5" height="9.0" rx="1" class="g"/>
<rect x="1236.1" y="122.1" width="12.8" height="12.8" rx="2" class="sh"/>
<rect x="1237.5" y="123.5" width="10.0" height="10.0" rx="1" class="g"/>
<rect x="1236.1" y="136.2" width="12.8" height="12.8" rx="2" class="sh"/>
<rect x="1237.5" y="137.6" width="10.0" height="10.0" rx="1" class="g"/>
<rect x="1248.1" y="122.1" width="12.8" height="12.8" rx="2" class="sh"/>
<rect x="1249.5" y="123.5" width="10.0" height="10.0" rx="1" class="g"/>
<rect x="1248.1" y="136.2" width="12.8" height="12.8" rx="2" class="sh"/>
<rect x="1249.5" y="137.6" width="10.0" height="10.0" rx="1" class="g"/>
<rect x="1240.1" y="158.3" width="11.8" height="11.3" rx="2" class="sh"/>
<rect x="1241.5" y="159.8" width="9.0" height="8.5" rx="1" class="g"/>
<rect x="1252.1" y="158.3" width="11.8" height="11.3" rx="2" class="sh"/>
<rect x="1253.5" y="159.8" width="9.0" height="8.5" rx="1" class="g"/>
<rect x="1245.2" y="182.2" width="13.2" height="18.8" rx="1.8" class="sh"/>
<rect x="1246.6" y="183.6" width="10.4" height="16.0" rx="0.8" class="g"/>
<rect x="1267.6" y="183.6" width="12.4" height="17.4" rx="1.8" class="sh"/>
<rect x="1269.0" y="185.0" width="9.6" height="14.6" rx="0.8" class="g"/>
<rect x="1283.1" y="186.6" width="12.9" height="11.5" rx="1.8" class="sh"/>
<rect x="1284.5" y="188.0" width="10.1" height="8.7" rx="0.8" class="g"/>
<rect x="1295.3" y="186.6" width="12.1" height="11.5" rx="1.8" class="sh"/>
<rect x="1296.7" y="188.0" width="9.3" height="8.7" rx="0.8" class="g"/>
<path d="M1246,182 L1243.5,182 L1243.5,201 L1246,201 M1279,182 L1281.5,182 L1281.5,201 L1279,201" fill="none" stroke="#f1dedb" stroke-width="1.3"/>
<rect x="1348.6" y="122.8" width="11.8" height="11.8" rx="2" class="sh"/>
<rect x="1350.0" y="124.2" width="9.0" height="9.0" rx="1" class="g"/>
<rect x="1348.6" y="133.1" width="11.8" height="11.8" rx="2" class="sh"/>
<rect x="1350.0" y="134.5" width="9.0" height="9.0" rx="1" class="g"/>
<rect x="1360.6" y="122.8" width="11.8" height="11.8" rx="2" class="sh"/>
<rect x="1362.0" y="124.2" width="9.0" height="9.0" rx="1" class="g"/>
<rect x="1360.6" y="133.1" width="11.8" height="11.8" rx="2" class="sh"/>
<rect x="1362.0" y="134.5" width="9.0" height="9.0" rx="1" class="g"/>
<rect x="1387.2" y="143.0" width="11.6" height="11.4" rx="2.2" class="sh"/>
<rect x="1388.6" y="144.4" width="8.8" height="8.6" rx="1.2" class="g"/>
<rect x="1387.2" y="154.6" width="11.6" height="11.4" rx="2.2" class="sh"/>
<rect x="1388.6" y="156.0" width="8.8" height="8.6" rx="1.2" class="g"/>
<rect x="1387.2" y="172.0" width="11.6" height="11.4" rx="2.2" class="sh"/>
<rect x="1388.6" y="173.4" width="8.8" height="8.6" rx="1.2" class="g"/>
<rect x="1387.2" y="183.8" width="11.6" height="11.4" rx="2.2" class="sh"/>
<rect x="1388.6" y="185.2" width="8.8" height="8.6" rx="1.2" class="g"/>
<rect x="1397.3" y="198.1" width="13.3" height="11.8" rx="2.2" class="sh"/>
<rect x="1398.8" y="199.5" width="10.5" height="9.0" rx="1.2" class="g"/>
<rect x="1397.3" y="211.1" width="13.3" height="11.8" rx="2.2" class="sh"/>
<rect x="1398.8" y="212.5" width="10.5" height="9.0" rx="1.2" class="g"/>
<rect x="1409.8" y="198.1" width="13.3" height="11.8" rx="2.2" class="sh"/>
<rect x="1411.2" y="199.5" width="10.5" height="9.0" rx="1.2" class="g"/>
<rect x="1409.8" y="211.1" width="13.3" height="11.8" rx="2.2" class="sh"/>
<rect x="1411.2" y="212.5" width="10.5" height="9.0" rx="1.2" class="g"/>
<rect x="1423.3" y="198.1" width="13.3" height="11.8" rx="2.2" class="sh"/>
<rect x="1424.8" y="199.5" width="10.5" height="9.0" rx="1.2" class="g"/>
<rect x="1423.3" y="211.1" width="13.3" height="11.8" rx="2.2" class="sh"/>
<rect x="1424.8" y="212.5" width="10.5" height="9.0" rx="1.2" class="g"/>
<rect x="1392.1" y="230.6" width="11.8" height="11.8" rx="2" class="sh"/>
<rect x="1393.5" y="232.0" width="9.0" height="9.0" rx="1" class="g"/>
<rect x="1404.1" y="230.6" width="11.8" height="11.8" rx="2" class="sh"/>
<rect x="1405.5" y="232.0" width="9.0" height="9.0" rx="1" class="g"/>
<rect x="1391.3" y="231.6" width="12.1" height="11.3" rx="1.8" class="sh"/>
<rect x="1392.7" y="233.0" width="9.3" height="8.5" rx="0.8" class="g"/>
<rect x="1403.6" y="231.6" width="11.5" height="11.3" rx="1.8" class="sh"/>
<rect x="1405.0" y="233.0" width="8.7" height="8.5" rx="0.8" class="g"/>
<rect x="1333.1" y="243.9" width="12.8" height="11.2" rx="1.8" class="sh"/>
<rect x="1334.5" y="245.3" width="10.0" height="8.4" rx="0.8" class="g"/>
<rect x="1345.4" y="243.9" width="12.4" height="11.2" rx="1.8" class="sh"/>
<rect x="1346.8" y="245.3" width="9.6" height="8.4" rx="0.8" class="g"/>
<rect x="1345.6" y="257.6" width="12.2" height="12.4" rx="1.8" class="sh"/>
<rect x="1347.0" y="259.0" width="9.4" height="9.6" rx="0.8" class="g"/>
<rect x="1358.1" y="257.6" width="12.3" height="12.4" rx="1.8" class="sh"/>
<rect x="1359.5" y="259.0" width="9.5" height="9.6" rx="0.8" class="g"/>
<rect x="1382.9" y="266.9" width="11.5" height="11.2" rx="1.8" class="sh"/>
<rect x="1384.3" y="268.3" width="8.7" height="8.4" rx="0.8" class="g"/>
<rect x="1382.9" y="278.3" width="11.5" height="12.1" rx="1.8" class="sh"/>
<rect x="1384.3" y="279.7" width="8.7" height="9.3" rx="0.8" class="g"/>
<rect x="1397.4" y="265.3" width="11.2" height="15.1" rx="1.8" class="sh"/>
<rect x="1398.8" y="266.7" width="8.4" height="12.3" rx="0.8" class="g"/>
<rect x="1420.4" y="265.3" width="10.4" height="15.1" rx="1.8" class="sh"/>
<rect x="1421.8" y="266.7" width="7.6" height="12.3" rx="0.8" class="g"/>
<path d="M1399,263 L1396,263 L1396,283 L1399,283 M1429,263 L1433,263 L1433,283 L1429,283" fill="none" stroke="#f1dedb" stroke-width="1.3"/>
<rect x="1330.1" y="289.6" width="12.3" height="16.8" rx="1.8" class="sh"/>
<rect x="1331.5" y="291.0" width="9.5" height="14.0" rx="0.8" class="g"/>
<rect x="1353.0" y="289.6" width="12.8" height="16.8" rx="1.8" class="sh"/>
<rect x="1354.4" y="291.0" width="10.0" height="14.0" rx="0.8" class="g"/>
<rect x="1405.6" y="307.4" width="12.8" height="11.2" rx="1.8" class="sh"/>
<rect x="1407.0" y="308.8" width="10.0" height="8.4" rx="0.8" class="g"/>
<rect x="1418.6" y="307.4" width="12.2" height="11.2" rx="1.8" class="sh"/>
<rect x="1420.0" y="308.8" width="9.4" height="8.4" rx="0.8" class="g"/>
<rect x="1383.5" y="318.8" width="66.5" height="54.69999999999999" fill="#a80f13" opacity="1"/>
<rect x="1383.5" y="318.8" width="66.5" height="54.69999999999999" fill="none" stroke="#f1dedb" stroke-width="1.5"/>
<path d="M1404.5,321.5 L1416,333 L1428,321.5" fill="none" stroke="#f1dedb" stroke-width="1.5"/>
<rect x="1388.3" y="327.6" width="18.7" height="12.8" rx="1.8" class="sh"/>
<rect x="1389.7" y="329.0" width="15.9" height="10.0" rx="0.8" class="g"/>
<rect x="1388.3" y="340.6" width="18.7" height="12.8" rx="1.8" class="sh"/>
<rect x="1389.7" y="342.0" width="15.9" height="10.0" rx="0.8" class="g"/>
<rect x="1388.3" y="353.6" width="18.7" height="12.8" rx="1.8" class="sh"/>
<rect x="1389.7" y="355.0" width="15.9" height="10.0" rx="0.8" class="g"/>
<rect x="1426.1" y="327.6" width="20.3" height="12.8" rx="1.8" class="sh"/>
<rect x="1427.5" y="329.0" width="17.5" height="10.0" rx="0.8" class="g"/>
<rect x="1426.1" y="353.6" width="20.3" height="12.8" rx="1.8" class="sh"/>
<rect x="1427.5" y="355.0" width="17.5" height="10.0" rx="0.8" class="g"/>
<rect x="1360.6" y="337.6" width="10.8" height="10.8" rx="1.8" class="sh"/>
<rect x="1362.0" y="339.0" width="8.0" height="8.0" rx="0.8" class="g"/>
<rect x="1362.6" y="349.6" width="10.8" height="10.8" rx="1.8" class="sh"/>
<rect x="1364.0" y="351.0" width="8.0" height="8.0" rx="0.8" class="g"/>
<rect x="1365.6" y="360.6" width="11.8" height="10.8" rx="1.8" class="sh"/>
<rect x="1367.0" y="362.0" width="9.0" height="8.0" rx="0.8" class="g"/>
<rect x="1377.6" y="360.6" width="11.8" height="10.8" rx="1.8" class="sh"/>
<rect x="1379.0" y="362.0" width="9.0" height="8.0" rx="0.8" class="g"/>
<rect x="1650" y="252" width="46" height="32" fill="none" stroke="#f1dedb" stroke-width="2.0"/>
<rect x="1487" y="281" width="151" height="109" fill="none" stroke="#f1dedb" stroke-width="2.0"/>
<path d="M1487,303 L1470,303 L1470,367 L1487,367 M1638,303 L1654,303 L1654,367 L1638,367" fill="none" stroke="#f1dedb" stroke-width="1.5"/>
<polygon points="1488,307.5 1602.7,307.5 1634,335 1602.7,361 1488,361" fill="#a40c0e" stroke="#f1dedb" stroke-width="1.5"/>
<circle cx="1506.0" cy="322.0" r="7" fill="#fff"/>
<circle cx="1506.0" cy="350.0" r="7" fill="#fff"/>
<circle cx="1618.7" cy="336.0" r="7" fill="#fff"/>
<circle cx="1525.5" cy="326.3" r="7.8" class="sh"/>
<circle cx="1525.5" cy="326.3" r="6" class="g"/>
<circle cx="1525.5" cy="344.8" r="7.8" class="sh"/>
<circle cx="1525.5" cy="344.8" r="6" class="g"/>
<circle cx="1544.0" cy="326.3" r="7.8" class="sh"/>
<circle cx="1544.0" cy="326.3" r="6" class="g"/>
<circle cx="1544.0" cy="344.8" r="7.8" class="sh"/>
<circle cx="1544.0" cy="344.8" r="6" class="g"/>
<circle cx="1562.7" cy="326.3" r="7.8" class="sh"/>
<circle cx="1562.7" cy="326.3" r="6" class="g"/>
<circle cx="1562.7" cy="344.8" r="7.8" class="sh"/>
<circle cx="1562.7" cy="344.8" r="6" class="g"/>
<circle cx="1581.4" cy="326.3" r="7.8" class="sh"/>
<circle cx="1581.4" cy="326.3" r="6" class="g"/>
<circle cx="1581.4" cy="344.8" r="7.8" class="sh"/>
<circle cx="1581.4" cy="344.8" r="6" class="g"/>
<circle cx="1600.0" cy="326.3" r="7.8" class="sh"/>
<circle cx="1600.0" cy="326.3" r="6" class="g"/>
<circle cx="1600.0" cy="344.8" r="7.8" class="sh"/>
<circle cx="1600.0" cy="344.8" r="6" class="g"/>
<circle cx="1709.2" cy="327.4" r="23.8" class="sh"/>
<circle cx="1709.2" cy="327.4" r="22.6" class="g" style="fill:#d4c07c"/>
<circle cx="1708.6" cy="326.5" r="13.4" fill="#9a8450" opacity="0.65"/>
<circle cx="1709.2" cy="327.4" r="11.8" fill="#fff"/>
<rect x="1798.4" y="265.9" width="30.7" height="22.2" rx="11.0" class="sh"/>
<rect x="1799.5" y="267.0" width="28.5" height="20" rx="10.0" class="g"/>
<rect x="1803.8" y="271.8" width="20" height="10.5" rx="5.25" fill="#fff"/>
<rect x="1834.9" y="251.8" width="37.2" height="21.7" rx="10.75" class="sh"/>
<rect x="1836.0" y="252.9" width="35" height="19.5" rx="9.75" class="g"/>
<rect x="1841.0" y="257.9" width="25" height="9.5" rx="4.75" fill="#fff"/>
<rect x="1798.4" y="366.4" width="30.7" height="21.7" rx="10.75" class="sh"/>
<rect x="1799.5" y="367.6" width="28.5" height="19.5" rx="9.75" class="g"/>
<rect x="1803.8" y="372.1" width="20" height="10.5" rx="5.25" fill="#fff"/>
<rect x="1834.9" y="379.9" width="37.2" height="22.2" rx="11.0" class="sh"/>
<rect x="1836.0" y="381.0" width="35" height="20" rx="10.0" class="g"/>
<rect x="1841.0" y="386.0" width="25" height="10" rx="5.0" fill="#fff"/>
<circle cx="1849" cy="293.4" r="9.2" fill="#7e0c0f" opacity="0.8"/>
<circle cx="1849.0" cy="293.4" r="7.6" fill="#fff"/>
<circle cx="1849" cy="362.4" r="9.2" fill="#7e0c0f" opacity="0.8"/>
<circle cx="1849.0" cy="362.4" r="7.6" fill="#fff"/>
<rect x="1797.0" y="304.5" width="24.8" height="9.2" rx="1.6" class="sh"/>
<rect x="1798.4" y="305.9" width="22.0" height="6.4" rx="0.6" class="g"/>
<rect x="1797.0" y="313.8" width="24.8" height="9.2" rx="1.6" class="sh"/>
<rect x="1798.4" y="315.2" width="22.0" height="6.4" rx="0.6" class="g"/>
<rect x="1797.0" y="322.6" width="24.8" height="9.2" rx="1.6" class="sh"/>
<rect x="1798.4" y="324.0" width="22.0" height="6.4" rx="0.6" class="g"/>
<rect x="1797.0" y="331.8" width="24.8" height="9.2" rx="1.6" class="sh"/>
<rect x="1798.4" y="333.2" width="22.0" height="6.4" rx="0.6" class="g"/>
<rect x="1797.0" y="340.8" width="24.8" height="9.2" rx="1.6" class="sh"/>
<rect x="1798.4" y="342.2" width="22.0" height="6.4" rx="0.6" class="g"/>
<circle cx="1807" cy="353" r="1.8" fill="#f1dedb"/>
<path d="M1171.5,429.5 L1147.5,429.5 L1147.5,456.5 L1171.5,456.5" fill="none" stroke="#f1dedb" stroke-width="1.7"/>
<path d="M1176.5,429.5 L1200.5,429.5 L1200.5,456.5 L1176.5,456.5" fill="none" stroke="#f1dedb" stroke-width="1.7"/>
<rect x="1149.6" y="431.1" width="22.5" height="23.8" rx="1.8" class="sh"/>
<rect x="1151.0" y="432.5" width="19.7" height="21.0" rx="0.8" class="g"/>
<rect x="1175.9" y="431.1" width="22.5" height="23.8" rx="1.8" class="sh"/>
<rect x="1177.3" y="432.5" width="19.7" height="21.0" rx="0.8" class="g"/>
<rect x="1171.8" y="437.33" width="4.4" height="11.34" fill="#f1dedb"/>
<rect x="1151" y="514" width="90" height="60" fill="#a50e10" opacity="1"/>
<circle cx="1374.6" cy="566.0" r="7" fill="#fff"/>
<circle cx="1418.6" cy="566.0" r="7" fill="#fff"/>
<path d="M853,482 L883,482 L883,490 L868,508 L868,571 L853,571 Z" fill="#a80e10"/>
<path d="M925,482 L958,482 L958,571 L938,571 L938,508 L925,492 Z" fill="#a80e10"/>
<path d="M876.2,485.6 Q880,484 882.5,486.5 L885.3,489.6 L867.8,509.6 L867.8,565 Q867.8,570.5 862.4,570.5 Q856.9,570.5 856.9,565 L856.9,506.2 Z" fill="#fff"/>
<path d="M931,485.6 Q927.2,484 924.7,486.5 L922.2,489.6 L938.8,509.6 L938.8,565 Q938.8,570.5 944.6,570.5 Q950.4,570.5 950.4,565 L950.4,505.4 Z" fill="#fff"/>
<path d="M853.5,482 L882,482" fill="none" stroke="#f1dedb" stroke-width="1.6"/>
<circle cx="896.0" cy="474.7" r="5.6" class="sh"/>
<circle cx="896.0" cy="474.7" r="3.8" class="g"/>
<rect x="908.3" y="469.1" width="10.9" height="11.1" rx="2.2" class="sh"/>
<rect x="909.7" y="470.5" width="8.1" height="8.3" rx="1.2" class="g"/>
<rect x="919.6" y="469.1" width="10.8" height="11.1" rx="2.2" class="sh"/>
<rect x="921.0" y="470.5" width="8.0" height="8.3" rx="1.2" class="g"/>
<rect x="883.5" y="529" width="35.700000000000045" height="33.700000000000045" fill="none" stroke="#f1dedb" stroke-width="1.5"/>
<rect x="890.0" y="532.3" width="9.4" height="8.1" rx="2.2" class="sh"/>
<rect x="891.4" y="533.7" width="6.6" height="5.3" rx="1.2" class="g"/>
<rect x="904.6" y="532.3" width="9.6" height="8.1" rx="2.2" class="sh"/>
<rect x="906.0" y="533.7" width="6.8" height="5.3" rx="1.2" class="g"/>
<rect x="886.3" y="542.2" width="9.4" height="8.4" rx="2.2" class="sh"/>
<rect x="887.7" y="543.6" width="6.6" height="5.6" rx="1.2" class="g"/>
<rect x="908.6" y="542.2" width="9.5" height="8.4" rx="2.2" class="sh"/>
<rect x="910.0" y="543.6" width="6.7" height="5.6" rx="1.2" class="g"/>
<rect x="890.0" y="552.9" width="9.4" height="8.7" rx="2.2" class="sh"/>
<rect x="891.4" y="554.3" width="6.6" height="5.9" rx="1.2" class="g"/>
<rect x="904.6" y="552.9" width="9.6" height="8.7" rx="2.2" class="sh"/>
<rect x="906.0" y="554.3" width="6.8" height="5.9" rx="1.2" class="g"/>
<circle cx="912.0" cy="449.4" r="5.6" class="sh"/>
<circle cx="912.0" cy="449.4" r="3.8" class="g"/>
<rect x="907.2" y="456.0" width="12.0" height="10.9" rx="2.2" class="sh"/>
<rect x="908.6" y="457.4" width="9.2" height="8.1" rx="1.2" class="g"/>
<rect x="919.6" y="456.0" width="10.8" height="10.9" rx="2.2" class="sh"/>
<rect x="921.0" y="457.4" width="8.0" height="8.1" rx="1.2" class="g"/>
<rect x="989.5" y="536.0" width="11.9" height="10.8" rx="2" class="sh"/>
<rect x="990.9" y="537.4" width="9.1" height="8.0" rx="1" class="g"/>
<rect x="1003.3" y="536.0" width="12.0" height="10.8" rx="2" class="sh"/>
<rect x="1004.7" y="537.4" width="9.2" height="8.0" rx="1" class="g"/>
<rect x="989.5" y="547.6" width="11.9" height="10.8" rx="2" class="sh"/>
<rect x="990.9" y="549.0" width="9.1" height="8.0" rx="1" class="g"/>
<rect x="1003.3" y="547.6" width="12.0" height="10.8" rx="2" class="sh"/>
<rect x="1004.7" y="549.0" width="9.2" height="8.0" rx="1" class="g"/>
<rect x="1052.1" y="533.6" width="12.0" height="10.8" rx="2" class="sh"/>
<rect x="1053.5" y="535.0" width="9.2" height="8.0" rx="1" class="g"/>
<rect x="1052.1" y="545.2" width="12.0" height="10.8" rx="2" class="sh"/>
<rect x="1053.5" y="546.6" width="9.2" height="8.0" rx="1" class="g"/>
<rect x="988.4" y="563.6" width="10.8" height="16.5" rx="2" class="sh"/>
<rect x="989.8" y="565.0" width="8.0" height="13.7" rx="1" class="g"/>
<rect x="1009.6" y="564.1" width="11.4" height="16.0" rx="2" class="sh"/>
<rect x="1011.0" y="565.5" width="8.6" height="13.2" rx="1" class="g"/>
<rect x="1023.9" y="570.4" width="12.0" height="12.6" rx="2" class="sh"/>
<rect x="1025.3" y="571.8" width="9.2" height="9.8" rx="1" class="g"/>
<rect x="1036.6" y="570.4" width="12.5" height="12.6" rx="2" class="sh"/>
<rect x="1038.0" y="571.8" width="9.7" height="9.8" rx="1" class="g"/>
<path d="M1015.6,530 L1051.7,530 L1051.7,565.4 L1024,565.4 L1024,561.3 L1015.6,561.3 Z" fill="none" stroke="#f1dedb" stroke-width="1.6"/>
<rect x="1026.6" y="533.1" width="7.8" height="7.3" rx="2.5" class="sh"/>
<rect x="1028.0" y="534.5" width="5.0" height="4.5" rx="1.5" class="g"/>
<rect x="1033.6" y="533.1" width="7.5" height="7.3" rx="2.5" class="sh"/>
<rect x="1035.0" y="534.5" width="4.7" height="4.5" rx="1.5" class="g"/>
<rect x="1018.2" y="537.6" width="8.0" height="7.5" rx="2.5" class="sh"/>
<rect x="1019.6" y="539.0" width="5.2" height="4.7" rx="1.5" class="g"/>
<rect x="1041.2" y="537.6" width="7.9" height="7.5" rx="2.5" class="sh"/>
<rect x="1042.6" y="539.0" width="5.1" height="4.7" rx="1.5" class="g"/>
<rect x="1018.2" y="544.0" width="8.0" height="6.8" rx="2.5" class="sh"/>
<rect x="1019.6" y="545.4" width="5.2" height="4.0" rx="1.5" class="g"/>
<rect x="1040.0" y="544.0" width="9.1" height="6.8" rx="2.5" class="sh"/>
<rect x="1041.4" y="545.4" width="6.3" height="4.0" rx="1.5" class="g"/>
<rect x="1018.2" y="550.9" width="8.0" height="7.5" rx="2.5" class="sh"/>
<rect x="1019.6" y="552.3" width="5.2" height="4.7" rx="1.5" class="g"/>
<rect x="1041.2" y="550.9" width="7.9" height="7.5" rx="2.5" class="sh"/>
<rect x="1042.6" y="552.3" width="5.1" height="4.7" rx="1.5" class="g"/>
<rect x="1026.2" y="554.9" width="8.0" height="7.5" rx="2.5" class="sh"/>
<rect x="1027.6" y="556.3" width="5.2" height="4.7" rx="1.5" class="g"/>
<rect x="1033.6" y="554.9" width="7.5" height="7.5" rx="2.5" class="sh"/>
<rect x="1035.0" y="556.3" width="4.7" height="4.7" rx="1.5" class="g"/>
<path d="M989,561 L985,561 L985,582.7 L989,582.7" fill="none" stroke="#f1dedb" stroke-width="1.4"/>
<rect x="49" y="593" width="5" height="17" fill="#d4c98c"/>
<rect x="44.6" y="581" width="3.2" height="36" fill="#d2c88e"/>
<text x="56.5" y="613.5" font-family="Liberation Sans, sans-serif" font-size="22" fill="#5e4b3c">2</text>
</svg>
</body></html>
